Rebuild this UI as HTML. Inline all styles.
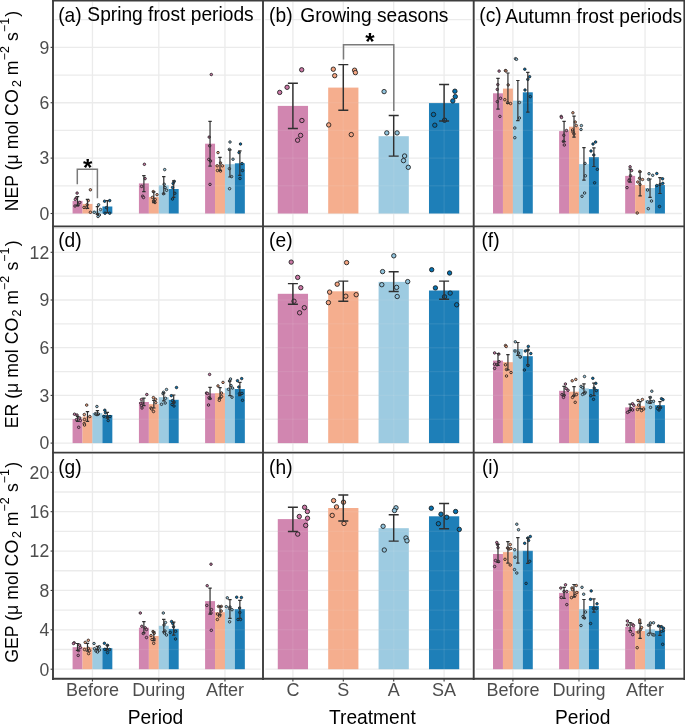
<!DOCTYPE html>
<html><head><meta charset="utf-8"><style>
html,body{margin:0;padding:0;background:#fff;}
svg{display:block;will-change:transform;}
text{font-family:"Liberation Sans", sans-serif;}
.ax{font-size:17.6px;fill:#4D4D4D;}
.at{font-size:19.2px;fill:#000;}
.st{font-size:19.2px;fill:#000;}
.ast{font-size:24px;font-weight:bold;fill:#000;}
</style></head><body>
<svg width="685" height="724" viewBox="0 0 685 724">
<rect width="685" height="724" fill="#fff"/>
<line x1="54.30" y1="185.81" x2="260.70" y2="185.81" stroke="#EBEBEB" stroke-width="1.3"/>
<line x1="54.30" y1="130.43" x2="260.70" y2="130.43" stroke="#EBEBEB" stroke-width="1.3"/>
<line x1="54.30" y1="75.05" x2="260.70" y2="75.05" stroke="#EBEBEB" stroke-width="1.3"/>
<line x1="54.30" y1="19.67" x2="260.70" y2="19.67" stroke="#EBEBEB" stroke-width="1.3"/>
<line x1="54.30" y1="213.50" x2="260.70" y2="213.50" stroke="#EBEBEB" stroke-width="1.3"/>
<line x1="54.30" y1="158.12" x2="260.70" y2="158.12" stroke="#EBEBEB" stroke-width="1.3"/>
<line x1="54.30" y1="102.74" x2="260.70" y2="102.74" stroke="#EBEBEB" stroke-width="1.3"/>
<line x1="54.30" y1="47.36" x2="260.70" y2="47.36" stroke="#EBEBEB" stroke-width="1.3"/>
<line x1="92.45" y1="2.00" x2="92.45" y2="224.80" stroke="#EBEBEB" stroke-width="1.3"/>
<line x1="158.80" y1="2.00" x2="158.80" y2="224.80" stroke="#EBEBEB" stroke-width="1.3"/>
<line x1="224.96" y1="2.00" x2="224.96" y2="224.80" stroke="#EBEBEB" stroke-width="1.3"/>
<line x1="265.20" y1="185.81" x2="471.50" y2="185.81" stroke="#EBEBEB" stroke-width="1.3"/>
<line x1="265.20" y1="130.43" x2="471.50" y2="130.43" stroke="#EBEBEB" stroke-width="1.3"/>
<line x1="265.20" y1="75.05" x2="471.50" y2="75.05" stroke="#EBEBEB" stroke-width="1.3"/>
<line x1="265.20" y1="19.67" x2="471.50" y2="19.67" stroke="#EBEBEB" stroke-width="1.3"/>
<line x1="265.20" y1="213.50" x2="471.50" y2="213.50" stroke="#EBEBEB" stroke-width="1.3"/>
<line x1="265.20" y1="158.12" x2="471.50" y2="158.12" stroke="#EBEBEB" stroke-width="1.3"/>
<line x1="265.20" y1="102.74" x2="471.50" y2="102.74" stroke="#EBEBEB" stroke-width="1.3"/>
<line x1="265.20" y1="47.36" x2="471.50" y2="47.36" stroke="#EBEBEB" stroke-width="1.3"/>
<line x1="292.90" y1="2.00" x2="292.90" y2="224.80" stroke="#EBEBEB" stroke-width="1.3"/>
<line x1="343.30" y1="2.00" x2="343.30" y2="224.80" stroke="#EBEBEB" stroke-width="1.3"/>
<line x1="393.70" y1="2.00" x2="393.70" y2="224.80" stroke="#EBEBEB" stroke-width="1.3"/>
<line x1="444.10" y1="2.00" x2="444.10" y2="224.80" stroke="#EBEBEB" stroke-width="1.3"/>
<line x1="476.00" y1="185.81" x2="681.90" y2="185.81" stroke="#EBEBEB" stroke-width="1.3"/>
<line x1="476.00" y1="130.43" x2="681.90" y2="130.43" stroke="#EBEBEB" stroke-width="1.3"/>
<line x1="476.00" y1="75.05" x2="681.90" y2="75.05" stroke="#EBEBEB" stroke-width="1.3"/>
<line x1="476.00" y1="19.67" x2="681.90" y2="19.67" stroke="#EBEBEB" stroke-width="1.3"/>
<line x1="476.00" y1="213.50" x2="681.90" y2="213.50" stroke="#EBEBEB" stroke-width="1.3"/>
<line x1="476.00" y1="158.12" x2="681.90" y2="158.12" stroke="#EBEBEB" stroke-width="1.3"/>
<line x1="476.00" y1="102.74" x2="681.90" y2="102.74" stroke="#EBEBEB" stroke-width="1.3"/>
<line x1="476.00" y1="47.36" x2="681.90" y2="47.36" stroke="#EBEBEB" stroke-width="1.3"/>
<line x1="512.90" y1="2.00" x2="512.90" y2="224.80" stroke="#EBEBEB" stroke-width="1.3"/>
<line x1="578.98" y1="2.00" x2="578.98" y2="224.80" stroke="#EBEBEB" stroke-width="1.3"/>
<line x1="645.05" y1="2.00" x2="645.05" y2="224.80" stroke="#EBEBEB" stroke-width="1.3"/>
<line x1="54.30" y1="419.25" x2="260.70" y2="419.25" stroke="#EBEBEB" stroke-width="1.3"/>
<line x1="54.30" y1="371.55" x2="260.70" y2="371.55" stroke="#EBEBEB" stroke-width="1.3"/>
<line x1="54.30" y1="323.85" x2="260.70" y2="323.85" stroke="#EBEBEB" stroke-width="1.3"/>
<line x1="54.30" y1="276.15" x2="260.70" y2="276.15" stroke="#EBEBEB" stroke-width="1.3"/>
<line x1="54.30" y1="228.45" x2="260.70" y2="228.45" stroke="#EBEBEB" stroke-width="1.3"/>
<line x1="54.30" y1="443.10" x2="260.70" y2="443.10" stroke="#EBEBEB" stroke-width="1.3"/>
<line x1="54.30" y1="395.40" x2="260.70" y2="395.40" stroke="#EBEBEB" stroke-width="1.3"/>
<line x1="54.30" y1="347.70" x2="260.70" y2="347.70" stroke="#EBEBEB" stroke-width="1.3"/>
<line x1="54.30" y1="300.00" x2="260.70" y2="300.00" stroke="#EBEBEB" stroke-width="1.3"/>
<line x1="54.30" y1="252.30" x2="260.70" y2="252.30" stroke="#EBEBEB" stroke-width="1.3"/>
<line x1="92.45" y1="227.80" x2="92.45" y2="451.10" stroke="#EBEBEB" stroke-width="1.3"/>
<line x1="158.80" y1="227.80" x2="158.80" y2="451.10" stroke="#EBEBEB" stroke-width="1.3"/>
<line x1="224.96" y1="227.80" x2="224.96" y2="451.10" stroke="#EBEBEB" stroke-width="1.3"/>
<line x1="265.20" y1="419.25" x2="471.50" y2="419.25" stroke="#EBEBEB" stroke-width="1.3"/>
<line x1="265.20" y1="371.55" x2="471.50" y2="371.55" stroke="#EBEBEB" stroke-width="1.3"/>
<line x1="265.20" y1="323.85" x2="471.50" y2="323.85" stroke="#EBEBEB" stroke-width="1.3"/>
<line x1="265.20" y1="276.15" x2="471.50" y2="276.15" stroke="#EBEBEB" stroke-width="1.3"/>
<line x1="265.20" y1="228.45" x2="471.50" y2="228.45" stroke="#EBEBEB" stroke-width="1.3"/>
<line x1="265.20" y1="443.10" x2="471.50" y2="443.10" stroke="#EBEBEB" stroke-width="1.3"/>
<line x1="265.20" y1="395.40" x2="471.50" y2="395.40" stroke="#EBEBEB" stroke-width="1.3"/>
<line x1="265.20" y1="347.70" x2="471.50" y2="347.70" stroke="#EBEBEB" stroke-width="1.3"/>
<line x1="265.20" y1="300.00" x2="471.50" y2="300.00" stroke="#EBEBEB" stroke-width="1.3"/>
<line x1="265.20" y1="252.30" x2="471.50" y2="252.30" stroke="#EBEBEB" stroke-width="1.3"/>
<line x1="292.90" y1="227.80" x2="292.90" y2="451.10" stroke="#EBEBEB" stroke-width="1.3"/>
<line x1="343.30" y1="227.80" x2="343.30" y2="451.10" stroke="#EBEBEB" stroke-width="1.3"/>
<line x1="393.70" y1="227.80" x2="393.70" y2="451.10" stroke="#EBEBEB" stroke-width="1.3"/>
<line x1="444.10" y1="227.80" x2="444.10" y2="451.10" stroke="#EBEBEB" stroke-width="1.3"/>
<line x1="476.00" y1="419.25" x2="681.90" y2="419.25" stroke="#EBEBEB" stroke-width="1.3"/>
<line x1="476.00" y1="371.55" x2="681.90" y2="371.55" stroke="#EBEBEB" stroke-width="1.3"/>
<line x1="476.00" y1="323.85" x2="681.90" y2="323.85" stroke="#EBEBEB" stroke-width="1.3"/>
<line x1="476.00" y1="276.15" x2="681.90" y2="276.15" stroke="#EBEBEB" stroke-width="1.3"/>
<line x1="476.00" y1="228.45" x2="681.90" y2="228.45" stroke="#EBEBEB" stroke-width="1.3"/>
<line x1="476.00" y1="443.10" x2="681.90" y2="443.10" stroke="#EBEBEB" stroke-width="1.3"/>
<line x1="476.00" y1="395.40" x2="681.90" y2="395.40" stroke="#EBEBEB" stroke-width="1.3"/>
<line x1="476.00" y1="347.70" x2="681.90" y2="347.70" stroke="#EBEBEB" stroke-width="1.3"/>
<line x1="476.00" y1="300.00" x2="681.90" y2="300.00" stroke="#EBEBEB" stroke-width="1.3"/>
<line x1="476.00" y1="252.30" x2="681.90" y2="252.30" stroke="#EBEBEB" stroke-width="1.3"/>
<line x1="512.90" y1="227.80" x2="512.90" y2="451.10" stroke="#EBEBEB" stroke-width="1.3"/>
<line x1="578.98" y1="227.80" x2="578.98" y2="451.10" stroke="#EBEBEB" stroke-width="1.3"/>
<line x1="645.05" y1="227.80" x2="645.05" y2="451.10" stroke="#EBEBEB" stroke-width="1.3"/>
<line x1="54.30" y1="649.51" x2="260.70" y2="649.51" stroke="#EBEBEB" stroke-width="1.3"/>
<line x1="54.30" y1="610.13" x2="260.70" y2="610.13" stroke="#EBEBEB" stroke-width="1.3"/>
<line x1="54.30" y1="570.75" x2="260.70" y2="570.75" stroke="#EBEBEB" stroke-width="1.3"/>
<line x1="54.30" y1="531.37" x2="260.70" y2="531.37" stroke="#EBEBEB" stroke-width="1.3"/>
<line x1="54.30" y1="491.99" x2="260.70" y2="491.99" stroke="#EBEBEB" stroke-width="1.3"/>
<line x1="54.30" y1="669.20" x2="260.70" y2="669.20" stroke="#EBEBEB" stroke-width="1.3"/>
<line x1="54.30" y1="629.82" x2="260.70" y2="629.82" stroke="#EBEBEB" stroke-width="1.3"/>
<line x1="54.30" y1="590.44" x2="260.70" y2="590.44" stroke="#EBEBEB" stroke-width="1.3"/>
<line x1="54.30" y1="551.06" x2="260.70" y2="551.06" stroke="#EBEBEB" stroke-width="1.3"/>
<line x1="54.30" y1="511.68" x2="260.70" y2="511.68" stroke="#EBEBEB" stroke-width="1.3"/>
<line x1="54.30" y1="472.30" x2="260.70" y2="472.30" stroke="#EBEBEB" stroke-width="1.3"/>
<line x1="92.45" y1="454.10" x2="92.45" y2="677.40" stroke="#EBEBEB" stroke-width="1.3"/>
<line x1="158.80" y1="454.10" x2="158.80" y2="677.40" stroke="#EBEBEB" stroke-width="1.3"/>
<line x1="224.96" y1="454.10" x2="224.96" y2="677.40" stroke="#EBEBEB" stroke-width="1.3"/>
<line x1="265.20" y1="649.51" x2="471.50" y2="649.51" stroke="#EBEBEB" stroke-width="1.3"/>
<line x1="265.20" y1="610.13" x2="471.50" y2="610.13" stroke="#EBEBEB" stroke-width="1.3"/>
<line x1="265.20" y1="570.75" x2="471.50" y2="570.75" stroke="#EBEBEB" stroke-width="1.3"/>
<line x1="265.20" y1="531.37" x2="471.50" y2="531.37" stroke="#EBEBEB" stroke-width="1.3"/>
<line x1="265.20" y1="491.99" x2="471.50" y2="491.99" stroke="#EBEBEB" stroke-width="1.3"/>
<line x1="265.20" y1="669.20" x2="471.50" y2="669.20" stroke="#EBEBEB" stroke-width="1.3"/>
<line x1="265.20" y1="629.82" x2="471.50" y2="629.82" stroke="#EBEBEB" stroke-width="1.3"/>
<line x1="265.20" y1="590.44" x2="471.50" y2="590.44" stroke="#EBEBEB" stroke-width="1.3"/>
<line x1="265.20" y1="551.06" x2="471.50" y2="551.06" stroke="#EBEBEB" stroke-width="1.3"/>
<line x1="265.20" y1="511.68" x2="471.50" y2="511.68" stroke="#EBEBEB" stroke-width="1.3"/>
<line x1="265.20" y1="472.30" x2="471.50" y2="472.30" stroke="#EBEBEB" stroke-width="1.3"/>
<line x1="292.90" y1="454.10" x2="292.90" y2="677.40" stroke="#EBEBEB" stroke-width="1.3"/>
<line x1="343.30" y1="454.10" x2="343.30" y2="677.40" stroke="#EBEBEB" stroke-width="1.3"/>
<line x1="393.70" y1="454.10" x2="393.70" y2="677.40" stroke="#EBEBEB" stroke-width="1.3"/>
<line x1="444.10" y1="454.10" x2="444.10" y2="677.40" stroke="#EBEBEB" stroke-width="1.3"/>
<line x1="476.00" y1="649.51" x2="681.90" y2="649.51" stroke="#EBEBEB" stroke-width="1.3"/>
<line x1="476.00" y1="610.13" x2="681.90" y2="610.13" stroke="#EBEBEB" stroke-width="1.3"/>
<line x1="476.00" y1="570.75" x2="681.90" y2="570.75" stroke="#EBEBEB" stroke-width="1.3"/>
<line x1="476.00" y1="531.37" x2="681.90" y2="531.37" stroke="#EBEBEB" stroke-width="1.3"/>
<line x1="476.00" y1="491.99" x2="681.90" y2="491.99" stroke="#EBEBEB" stroke-width="1.3"/>
<line x1="476.00" y1="669.20" x2="681.90" y2="669.20" stroke="#EBEBEB" stroke-width="1.3"/>
<line x1="476.00" y1="629.82" x2="681.90" y2="629.82" stroke="#EBEBEB" stroke-width="1.3"/>
<line x1="476.00" y1="590.44" x2="681.90" y2="590.44" stroke="#EBEBEB" stroke-width="1.3"/>
<line x1="476.00" y1="551.06" x2="681.90" y2="551.06" stroke="#EBEBEB" stroke-width="1.3"/>
<line x1="476.00" y1="511.68" x2="681.90" y2="511.68" stroke="#EBEBEB" stroke-width="1.3"/>
<line x1="476.00" y1="472.30" x2="681.90" y2="472.30" stroke="#EBEBEB" stroke-width="1.3"/>
<line x1="512.90" y1="454.10" x2="512.90" y2="677.40" stroke="#EBEBEB" stroke-width="1.3"/>
<line x1="578.98" y1="454.10" x2="578.98" y2="677.40" stroke="#EBEBEB" stroke-width="1.3"/>
<line x1="645.05" y1="454.10" x2="645.05" y2="677.40" stroke="#EBEBEB" stroke-width="1.3"/>
<rect x="72.58" y="200.90" width="9.94" height="12.60" fill="#CC79A7" fill-opacity="0.9"/>
<rect x="82.51" y="203.90" width="9.94" height="9.60" fill="#F4A582" fill-opacity="0.9"/>
<rect x="92.45" y="210.70" width="9.94" height="2.80" fill="#92C5DE" fill-opacity="0.9"/>
<rect x="102.39" y="206.50" width="9.94" height="7.00" fill="#0571B0" fill-opacity="0.9"/>
<rect x="138.93" y="183.40" width="9.94" height="30.10" fill="#CC79A7" fill-opacity="0.9"/>
<rect x="148.86" y="197.10" width="9.94" height="16.40" fill="#F4A582" fill-opacity="0.9"/>
<rect x="158.80" y="185.30" width="9.94" height="28.20" fill="#92C5DE" fill-opacity="0.9"/>
<rect x="168.74" y="189.00" width="9.94" height="24.50" fill="#0571B0" fill-opacity="0.9"/>
<rect x="205.09" y="143.70" width="9.94" height="69.80" fill="#CC79A7" fill-opacity="0.9"/>
<rect x="215.02" y="164.80" width="9.94" height="48.70" fill="#F4A582" fill-opacity="0.9"/>
<rect x="224.96" y="164.20" width="9.94" height="49.30" fill="#92C5DE" fill-opacity="0.9"/>
<rect x="234.90" y="163.30" width="9.94" height="50.20" fill="#0571B0" fill-opacity="0.9"/>
<rect x="277.78" y="105.90" width="30.24" height="107.60" fill="#CC79A7" fill-opacity="0.9"/>
<rect x="328.18" y="87.60" width="30.24" height="125.90" fill="#F4A582" fill-opacity="0.9"/>
<rect x="378.58" y="136.20" width="30.24" height="77.30" fill="#92C5DE" fill-opacity="0.9"/>
<rect x="428.98" y="103.10" width="30.24" height="110.40" fill="#0571B0" fill-opacity="0.9"/>
<rect x="493.02" y="93.30" width="9.94" height="120.20" fill="#CC79A7" fill-opacity="0.9"/>
<rect x="502.96" y="88.60" width="9.94" height="124.90" fill="#F4A582" fill-opacity="0.9"/>
<rect x="512.90" y="100.70" width="9.94" height="112.80" fill="#92C5DE" fill-opacity="0.9"/>
<rect x="522.84" y="92.30" width="9.94" height="121.20" fill="#0571B0" fill-opacity="0.9"/>
<rect x="559.11" y="131.10" width="9.94" height="82.40" fill="#CC79A7" fill-opacity="0.9"/>
<rect x="569.04" y="126.70" width="9.94" height="86.80" fill="#F4A582" fill-opacity="0.9"/>
<rect x="578.98" y="164.10" width="9.94" height="49.40" fill="#92C5DE" fill-opacity="0.9"/>
<rect x="588.92" y="157.20" width="9.94" height="56.30" fill="#0571B0" fill-opacity="0.9"/>
<rect x="625.17" y="175.90" width="9.94" height="37.60" fill="#CC79A7" fill-opacity="0.9"/>
<rect x="635.11" y="185.00" width="9.94" height="28.50" fill="#F4A582" fill-opacity="0.9"/>
<rect x="645.05" y="188.00" width="9.94" height="25.50" fill="#92C5DE" fill-opacity="0.9"/>
<rect x="654.99" y="185.00" width="9.94" height="28.50" fill="#0571B0" fill-opacity="0.9"/>
<rect x="72.58" y="419.00" width="9.94" height="24.10" fill="#CC79A7" fill-opacity="0.9"/>
<rect x="82.51" y="416.50" width="9.94" height="26.60" fill="#F4A582" fill-opacity="0.9"/>
<rect x="92.45" y="413.10" width="9.94" height="30.00" fill="#92C5DE" fill-opacity="0.9"/>
<rect x="102.39" y="415.00" width="9.94" height="28.10" fill="#0571B0" fill-opacity="0.9"/>
<rect x="138.93" y="402.00" width="9.94" height="41.10" fill="#CC79A7" fill-opacity="0.9"/>
<rect x="148.86" y="404.20" width="9.94" height="38.90" fill="#F4A582" fill-opacity="0.9"/>
<rect x="158.80" y="397.20" width="9.94" height="45.90" fill="#92C5DE" fill-opacity="0.9"/>
<rect x="168.74" y="399.80" width="9.94" height="43.30" fill="#0571B0" fill-opacity="0.9"/>
<rect x="205.09" y="393.40" width="9.94" height="49.70" fill="#CC79A7" fill-opacity="0.9"/>
<rect x="215.02" y="393.20" width="9.94" height="49.90" fill="#F4A582" fill-opacity="0.9"/>
<rect x="224.96" y="388.20" width="9.94" height="54.90" fill="#92C5DE" fill-opacity="0.9"/>
<rect x="234.90" y="389.00" width="9.94" height="54.10" fill="#0571B0" fill-opacity="0.9"/>
<rect x="277.78" y="293.80" width="30.24" height="149.30" fill="#CC79A7" fill-opacity="0.9"/>
<rect x="328.18" y="291.30" width="30.24" height="151.80" fill="#F4A582" fill-opacity="0.9"/>
<rect x="378.58" y="281.90" width="30.24" height="161.20" fill="#92C5DE" fill-opacity="0.9"/>
<rect x="428.98" y="290.50" width="30.24" height="152.60" fill="#0571B0" fill-opacity="0.9"/>
<rect x="493.02" y="360.60" width="9.94" height="82.50" fill="#CC79A7" fill-opacity="0.9"/>
<rect x="502.96" y="362.20" width="9.94" height="80.90" fill="#F4A582" fill-opacity="0.9"/>
<rect x="512.90" y="349.00" width="9.94" height="94.10" fill="#92C5DE" fill-opacity="0.9"/>
<rect x="522.84" y="356.20" width="9.94" height="86.90" fill="#0571B0" fill-opacity="0.9"/>
<rect x="559.11" y="390.80" width="9.94" height="52.30" fill="#CC79A7" fill-opacity="0.9"/>
<rect x="569.04" y="391.70" width="9.94" height="51.40" fill="#F4A582" fill-opacity="0.9"/>
<rect x="578.98" y="388.40" width="9.94" height="54.70" fill="#92C5DE" fill-opacity="0.9"/>
<rect x="588.92" y="389.10" width="9.94" height="54.00" fill="#0571B0" fill-opacity="0.9"/>
<rect x="625.17" y="407.40" width="9.94" height="35.70" fill="#CC79A7" fill-opacity="0.9"/>
<rect x="635.11" y="405.90" width="9.94" height="37.20" fill="#F4A582" fill-opacity="0.9"/>
<rect x="645.05" y="400.40" width="9.94" height="42.70" fill="#92C5DE" fill-opacity="0.9"/>
<rect x="654.99" y="405.20" width="9.94" height="37.90" fill="#0571B0" fill-opacity="0.9"/>
<rect x="72.58" y="647.20" width="9.94" height="22.00" fill="#CC79A7" fill-opacity="0.9"/>
<rect x="82.51" y="647.40" width="9.94" height="21.80" fill="#F4A582" fill-opacity="0.9"/>
<rect x="92.45" y="647.70" width="9.94" height="21.50" fill="#92C5DE" fill-opacity="0.9"/>
<rect x="102.39" y="648.20" width="9.94" height="21.00" fill="#0571B0" fill-opacity="0.9"/>
<rect x="138.93" y="627.70" width="9.94" height="41.50" fill="#CC79A7" fill-opacity="0.9"/>
<rect x="148.86" y="636.00" width="9.94" height="33.20" fill="#F4A582" fill-opacity="0.9"/>
<rect x="158.80" y="625.80" width="9.94" height="43.40" fill="#92C5DE" fill-opacity="0.9"/>
<rect x="168.74" y="628.90" width="9.94" height="40.30" fill="#0571B0" fill-opacity="0.9"/>
<rect x="205.09" y="601.10" width="9.94" height="68.10" fill="#CC79A7" fill-opacity="0.9"/>
<rect x="215.02" y="612.20" width="9.94" height="57.00" fill="#F4A582" fill-opacity="0.9"/>
<rect x="224.96" y="609.00" width="9.94" height="60.20" fill="#92C5DE" fill-opacity="0.9"/>
<rect x="234.90" y="609.20" width="9.94" height="60.00" fill="#0571B0" fill-opacity="0.9"/>
<rect x="277.78" y="519.10" width="30.24" height="150.10" fill="#CC79A7" fill-opacity="0.9"/>
<rect x="328.18" y="508.00" width="30.24" height="161.20" fill="#F4A582" fill-opacity="0.9"/>
<rect x="378.58" y="528.20" width="30.24" height="141.00" fill="#92C5DE" fill-opacity="0.9"/>
<rect x="428.98" y="516.30" width="30.24" height="152.90" fill="#0571B0" fill-opacity="0.9"/>
<rect x="493.02" y="554.00" width="9.94" height="115.20" fill="#CC79A7" fill-opacity="0.9"/>
<rect x="502.96" y="552.10" width="9.94" height="117.10" fill="#F4A582" fill-opacity="0.9"/>
<rect x="512.90" y="550.80" width="9.94" height="118.40" fill="#92C5DE" fill-opacity="0.9"/>
<rect x="522.84" y="550.80" width="9.94" height="118.40" fill="#0571B0" fill-opacity="0.9"/>
<rect x="559.11" y="592.90" width="9.94" height="76.30" fill="#CC79A7" fill-opacity="0.9"/>
<rect x="569.04" y="591.10" width="9.94" height="78.10" fill="#F4A582" fill-opacity="0.9"/>
<rect x="578.98" y="609.20" width="9.94" height="60.00" fill="#92C5DE" fill-opacity="0.9"/>
<rect x="588.92" y="606.00" width="9.94" height="63.20" fill="#0571B0" fill-opacity="0.9"/>
<rect x="625.17" y="626.90" width="9.94" height="42.30" fill="#CC79A7" fill-opacity="0.9"/>
<rect x="635.11" y="631.00" width="9.94" height="38.20" fill="#F4A582" fill-opacity="0.9"/>
<rect x="645.05" y="629.30" width="9.94" height="39.90" fill="#92C5DE" fill-opacity="0.9"/>
<rect x="654.99" y="630.80" width="9.94" height="38.40" fill="#0571B0" fill-opacity="0.9"/>
<line x1="138.93" y1="185.81" x2="148.86" y2="185.81" stroke="#fff" stroke-opacity="0.09" stroke-width="1.3"/>
<line x1="158.80" y1="185.81" x2="168.74" y2="185.81" stroke="#fff" stroke-opacity="0.09" stroke-width="1.3"/>
<line x1="205.09" y1="185.81" x2="215.02" y2="185.81" stroke="#fff" stroke-opacity="0.09" stroke-width="1.3"/>
<line x1="205.09" y1="158.12" x2="215.02" y2="158.12" stroke="#fff" stroke-opacity="0.09" stroke-width="1.3"/>
<line x1="215.02" y1="185.81" x2="224.96" y2="185.81" stroke="#fff" stroke-opacity="0.09" stroke-width="1.3"/>
<line x1="224.96" y1="185.81" x2="234.90" y2="185.81" stroke="#fff" stroke-opacity="0.09" stroke-width="1.3"/>
<line x1="234.90" y1="185.81" x2="244.84" y2="185.81" stroke="#fff" stroke-opacity="0.09" stroke-width="1.3"/>
<line x1="277.78" y1="185.81" x2="308.02" y2="185.81" stroke="#fff" stroke-opacity="0.09" stroke-width="1.3"/>
<line x1="277.78" y1="130.43" x2="308.02" y2="130.43" stroke="#fff" stroke-opacity="0.09" stroke-width="1.3"/>
<line x1="277.78" y1="158.12" x2="308.02" y2="158.12" stroke="#fff" stroke-opacity="0.09" stroke-width="1.3"/>
<line x1="292.90" y1="105.90" x2="292.90" y2="213.50" stroke="#fff" stroke-opacity="0.09" stroke-width="1.3"/>
<line x1="328.18" y1="185.81" x2="358.42" y2="185.81" stroke="#fff" stroke-opacity="0.09" stroke-width="1.3"/>
<line x1="328.18" y1="130.43" x2="358.42" y2="130.43" stroke="#fff" stroke-opacity="0.09" stroke-width="1.3"/>
<line x1="328.18" y1="158.12" x2="358.42" y2="158.12" stroke="#fff" stroke-opacity="0.09" stroke-width="1.3"/>
<line x1="328.18" y1="102.74" x2="358.42" y2="102.74" stroke="#fff" stroke-opacity="0.09" stroke-width="1.3"/>
<line x1="343.30" y1="87.60" x2="343.30" y2="213.50" stroke="#fff" stroke-opacity="0.09" stroke-width="1.3"/>
<line x1="378.58" y1="185.81" x2="408.82" y2="185.81" stroke="#fff" stroke-opacity="0.09" stroke-width="1.3"/>
<line x1="378.58" y1="158.12" x2="408.82" y2="158.12" stroke="#fff" stroke-opacity="0.09" stroke-width="1.3"/>
<line x1="393.70" y1="136.20" x2="393.70" y2="213.50" stroke="#fff" stroke-opacity="0.09" stroke-width="1.3"/>
<line x1="428.98" y1="185.81" x2="459.22" y2="185.81" stroke="#fff" stroke-opacity="0.09" stroke-width="1.3"/>
<line x1="428.98" y1="130.43" x2="459.22" y2="130.43" stroke="#fff" stroke-opacity="0.09" stroke-width="1.3"/>
<line x1="428.98" y1="158.12" x2="459.22" y2="158.12" stroke="#fff" stroke-opacity="0.09" stroke-width="1.3"/>
<line x1="444.10" y1="103.10" x2="444.10" y2="213.50" stroke="#fff" stroke-opacity="0.09" stroke-width="1.3"/>
<line x1="493.02" y1="185.81" x2="502.96" y2="185.81" stroke="#fff" stroke-opacity="0.09" stroke-width="1.3"/>
<line x1="493.02" y1="130.43" x2="502.96" y2="130.43" stroke="#fff" stroke-opacity="0.09" stroke-width="1.3"/>
<line x1="493.02" y1="158.12" x2="502.96" y2="158.12" stroke="#fff" stroke-opacity="0.09" stroke-width="1.3"/>
<line x1="493.02" y1="102.74" x2="502.96" y2="102.74" stroke="#fff" stroke-opacity="0.09" stroke-width="1.3"/>
<line x1="502.96" y1="185.81" x2="512.90" y2="185.81" stroke="#fff" stroke-opacity="0.09" stroke-width="1.3"/>
<line x1="502.96" y1="130.43" x2="512.90" y2="130.43" stroke="#fff" stroke-opacity="0.09" stroke-width="1.3"/>
<line x1="502.96" y1="158.12" x2="512.90" y2="158.12" stroke="#fff" stroke-opacity="0.09" stroke-width="1.3"/>
<line x1="502.96" y1="102.74" x2="512.90" y2="102.74" stroke="#fff" stroke-opacity="0.09" stroke-width="1.3"/>
<line x1="512.90" y1="185.81" x2="522.84" y2="185.81" stroke="#fff" stroke-opacity="0.09" stroke-width="1.3"/>
<line x1="512.90" y1="130.43" x2="522.84" y2="130.43" stroke="#fff" stroke-opacity="0.09" stroke-width="1.3"/>
<line x1="512.90" y1="158.12" x2="522.84" y2="158.12" stroke="#fff" stroke-opacity="0.09" stroke-width="1.3"/>
<line x1="512.90" y1="102.74" x2="522.84" y2="102.74" stroke="#fff" stroke-opacity="0.09" stroke-width="1.3"/>
<line x1="522.84" y1="185.81" x2="532.77" y2="185.81" stroke="#fff" stroke-opacity="0.09" stroke-width="1.3"/>
<line x1="522.84" y1="130.43" x2="532.77" y2="130.43" stroke="#fff" stroke-opacity="0.09" stroke-width="1.3"/>
<line x1="522.84" y1="158.12" x2="532.77" y2="158.12" stroke="#fff" stroke-opacity="0.09" stroke-width="1.3"/>
<line x1="522.84" y1="102.74" x2="532.77" y2="102.74" stroke="#fff" stroke-opacity="0.09" stroke-width="1.3"/>
<line x1="559.11" y1="185.81" x2="569.04" y2="185.81" stroke="#fff" stroke-opacity="0.09" stroke-width="1.3"/>
<line x1="559.11" y1="158.12" x2="569.04" y2="158.12" stroke="#fff" stroke-opacity="0.09" stroke-width="1.3"/>
<line x1="569.04" y1="185.81" x2="578.98" y2="185.81" stroke="#fff" stroke-opacity="0.09" stroke-width="1.3"/>
<line x1="569.04" y1="130.43" x2="578.98" y2="130.43" stroke="#fff" stroke-opacity="0.09" stroke-width="1.3"/>
<line x1="569.04" y1="158.12" x2="578.98" y2="158.12" stroke="#fff" stroke-opacity="0.09" stroke-width="1.3"/>
<line x1="578.98" y1="185.81" x2="588.92" y2="185.81" stroke="#fff" stroke-opacity="0.09" stroke-width="1.3"/>
<line x1="588.92" y1="185.81" x2="598.86" y2="185.81" stroke="#fff" stroke-opacity="0.09" stroke-width="1.3"/>
<line x1="588.92" y1="158.12" x2="598.86" y2="158.12" stroke="#fff" stroke-opacity="0.09" stroke-width="1.3"/>
<line x1="625.17" y1="185.81" x2="635.11" y2="185.81" stroke="#fff" stroke-opacity="0.09" stroke-width="1.3"/>
<line x1="635.11" y1="185.81" x2="645.05" y2="185.81" stroke="#fff" stroke-opacity="0.09" stroke-width="1.3"/>
<line x1="654.99" y1="185.81" x2="664.92" y2="185.81" stroke="#fff" stroke-opacity="0.09" stroke-width="1.3"/>
<line x1="72.58" y1="419.25" x2="82.51" y2="419.25" stroke="#fff" stroke-opacity="0.09" stroke-width="1.3"/>
<line x1="82.51" y1="419.25" x2="92.45" y2="419.25" stroke="#fff" stroke-opacity="0.09" stroke-width="1.3"/>
<line x1="92.45" y1="419.25" x2="102.39" y2="419.25" stroke="#fff" stroke-opacity="0.09" stroke-width="1.3"/>
<line x1="102.39" y1="419.25" x2="112.33" y2="419.25" stroke="#fff" stroke-opacity="0.09" stroke-width="1.3"/>
<line x1="138.93" y1="419.25" x2="148.86" y2="419.25" stroke="#fff" stroke-opacity="0.09" stroke-width="1.3"/>
<line x1="148.86" y1="419.25" x2="158.80" y2="419.25" stroke="#fff" stroke-opacity="0.09" stroke-width="1.3"/>
<line x1="158.80" y1="419.25" x2="168.74" y2="419.25" stroke="#fff" stroke-opacity="0.09" stroke-width="1.3"/>
<line x1="168.74" y1="419.25" x2="178.68" y2="419.25" stroke="#fff" stroke-opacity="0.09" stroke-width="1.3"/>
<line x1="205.09" y1="419.25" x2="215.02" y2="419.25" stroke="#fff" stroke-opacity="0.09" stroke-width="1.3"/>
<line x1="205.09" y1="395.40" x2="215.02" y2="395.40" stroke="#fff" stroke-opacity="0.09" stroke-width="1.3"/>
<line x1="215.02" y1="419.25" x2="224.96" y2="419.25" stroke="#fff" stroke-opacity="0.09" stroke-width="1.3"/>
<line x1="215.02" y1="395.40" x2="224.96" y2="395.40" stroke="#fff" stroke-opacity="0.09" stroke-width="1.3"/>
<line x1="224.96" y1="419.25" x2="234.90" y2="419.25" stroke="#fff" stroke-opacity="0.09" stroke-width="1.3"/>
<line x1="224.96" y1="395.40" x2="234.90" y2="395.40" stroke="#fff" stroke-opacity="0.09" stroke-width="1.3"/>
<line x1="234.90" y1="419.25" x2="244.84" y2="419.25" stroke="#fff" stroke-opacity="0.09" stroke-width="1.3"/>
<line x1="234.90" y1="395.40" x2="244.84" y2="395.40" stroke="#fff" stroke-opacity="0.09" stroke-width="1.3"/>
<line x1="277.78" y1="419.25" x2="308.02" y2="419.25" stroke="#fff" stroke-opacity="0.09" stroke-width="1.3"/>
<line x1="277.78" y1="371.55" x2="308.02" y2="371.55" stroke="#fff" stroke-opacity="0.09" stroke-width="1.3"/>
<line x1="277.78" y1="323.85" x2="308.02" y2="323.85" stroke="#fff" stroke-opacity="0.09" stroke-width="1.3"/>
<line x1="277.78" y1="395.40" x2="308.02" y2="395.40" stroke="#fff" stroke-opacity="0.09" stroke-width="1.3"/>
<line x1="277.78" y1="347.70" x2="308.02" y2="347.70" stroke="#fff" stroke-opacity="0.09" stroke-width="1.3"/>
<line x1="277.78" y1="300.00" x2="308.02" y2="300.00" stroke="#fff" stroke-opacity="0.09" stroke-width="1.3"/>
<line x1="292.90" y1="293.80" x2="292.90" y2="443.10" stroke="#fff" stroke-opacity="0.09" stroke-width="1.3"/>
<line x1="328.18" y1="419.25" x2="358.42" y2="419.25" stroke="#fff" stroke-opacity="0.09" stroke-width="1.3"/>
<line x1="328.18" y1="371.55" x2="358.42" y2="371.55" stroke="#fff" stroke-opacity="0.09" stroke-width="1.3"/>
<line x1="328.18" y1="323.85" x2="358.42" y2="323.85" stroke="#fff" stroke-opacity="0.09" stroke-width="1.3"/>
<line x1="328.18" y1="395.40" x2="358.42" y2="395.40" stroke="#fff" stroke-opacity="0.09" stroke-width="1.3"/>
<line x1="328.18" y1="347.70" x2="358.42" y2="347.70" stroke="#fff" stroke-opacity="0.09" stroke-width="1.3"/>
<line x1="328.18" y1="300.00" x2="358.42" y2="300.00" stroke="#fff" stroke-opacity="0.09" stroke-width="1.3"/>
<line x1="343.30" y1="291.30" x2="343.30" y2="443.10" stroke="#fff" stroke-opacity="0.09" stroke-width="1.3"/>
<line x1="378.58" y1="419.25" x2="408.82" y2="419.25" stroke="#fff" stroke-opacity="0.09" stroke-width="1.3"/>
<line x1="378.58" y1="371.55" x2="408.82" y2="371.55" stroke="#fff" stroke-opacity="0.09" stroke-width="1.3"/>
<line x1="378.58" y1="323.85" x2="408.82" y2="323.85" stroke="#fff" stroke-opacity="0.09" stroke-width="1.3"/>
<line x1="378.58" y1="395.40" x2="408.82" y2="395.40" stroke="#fff" stroke-opacity="0.09" stroke-width="1.3"/>
<line x1="378.58" y1="347.70" x2="408.82" y2="347.70" stroke="#fff" stroke-opacity="0.09" stroke-width="1.3"/>
<line x1="378.58" y1="300.00" x2="408.82" y2="300.00" stroke="#fff" stroke-opacity="0.09" stroke-width="1.3"/>
<line x1="393.70" y1="281.90" x2="393.70" y2="443.10" stroke="#fff" stroke-opacity="0.09" stroke-width="1.3"/>
<line x1="428.98" y1="419.25" x2="459.22" y2="419.25" stroke="#fff" stroke-opacity="0.09" stroke-width="1.3"/>
<line x1="428.98" y1="371.55" x2="459.22" y2="371.55" stroke="#fff" stroke-opacity="0.09" stroke-width="1.3"/>
<line x1="428.98" y1="323.85" x2="459.22" y2="323.85" stroke="#fff" stroke-opacity="0.09" stroke-width="1.3"/>
<line x1="428.98" y1="395.40" x2="459.22" y2="395.40" stroke="#fff" stroke-opacity="0.09" stroke-width="1.3"/>
<line x1="428.98" y1="347.70" x2="459.22" y2="347.70" stroke="#fff" stroke-opacity="0.09" stroke-width="1.3"/>
<line x1="428.98" y1="300.00" x2="459.22" y2="300.00" stroke="#fff" stroke-opacity="0.09" stroke-width="1.3"/>
<line x1="444.10" y1="290.50" x2="444.10" y2="443.10" stroke="#fff" stroke-opacity="0.09" stroke-width="1.3"/>
<line x1="493.02" y1="419.25" x2="502.96" y2="419.25" stroke="#fff" stroke-opacity="0.09" stroke-width="1.3"/>
<line x1="493.02" y1="371.55" x2="502.96" y2="371.55" stroke="#fff" stroke-opacity="0.09" stroke-width="1.3"/>
<line x1="493.02" y1="395.40" x2="502.96" y2="395.40" stroke="#fff" stroke-opacity="0.09" stroke-width="1.3"/>
<line x1="502.96" y1="419.25" x2="512.90" y2="419.25" stroke="#fff" stroke-opacity="0.09" stroke-width="1.3"/>
<line x1="502.96" y1="371.55" x2="512.90" y2="371.55" stroke="#fff" stroke-opacity="0.09" stroke-width="1.3"/>
<line x1="502.96" y1="395.40" x2="512.90" y2="395.40" stroke="#fff" stroke-opacity="0.09" stroke-width="1.3"/>
<line x1="512.90" y1="419.25" x2="522.84" y2="419.25" stroke="#fff" stroke-opacity="0.09" stroke-width="1.3"/>
<line x1="512.90" y1="371.55" x2="522.84" y2="371.55" stroke="#fff" stroke-opacity="0.09" stroke-width="1.3"/>
<line x1="512.90" y1="395.40" x2="522.84" y2="395.40" stroke="#fff" stroke-opacity="0.09" stroke-width="1.3"/>
<line x1="522.84" y1="419.25" x2="532.77" y2="419.25" stroke="#fff" stroke-opacity="0.09" stroke-width="1.3"/>
<line x1="522.84" y1="371.55" x2="532.77" y2="371.55" stroke="#fff" stroke-opacity="0.09" stroke-width="1.3"/>
<line x1="522.84" y1="395.40" x2="532.77" y2="395.40" stroke="#fff" stroke-opacity="0.09" stroke-width="1.3"/>
<line x1="559.11" y1="419.25" x2="569.04" y2="419.25" stroke="#fff" stroke-opacity="0.09" stroke-width="1.3"/>
<line x1="559.11" y1="395.40" x2="569.04" y2="395.40" stroke="#fff" stroke-opacity="0.09" stroke-width="1.3"/>
<line x1="569.04" y1="419.25" x2="578.98" y2="419.25" stroke="#fff" stroke-opacity="0.09" stroke-width="1.3"/>
<line x1="569.04" y1="395.40" x2="578.98" y2="395.40" stroke="#fff" stroke-opacity="0.09" stroke-width="1.3"/>
<line x1="578.98" y1="419.25" x2="588.92" y2="419.25" stroke="#fff" stroke-opacity="0.09" stroke-width="1.3"/>
<line x1="578.98" y1="395.40" x2="588.92" y2="395.40" stroke="#fff" stroke-opacity="0.09" stroke-width="1.3"/>
<line x1="588.92" y1="419.25" x2="598.86" y2="419.25" stroke="#fff" stroke-opacity="0.09" stroke-width="1.3"/>
<line x1="588.92" y1="395.40" x2="598.86" y2="395.40" stroke="#fff" stroke-opacity="0.09" stroke-width="1.3"/>
<line x1="625.17" y1="419.25" x2="635.11" y2="419.25" stroke="#fff" stroke-opacity="0.09" stroke-width="1.3"/>
<line x1="635.11" y1="419.25" x2="645.05" y2="419.25" stroke="#fff" stroke-opacity="0.09" stroke-width="1.3"/>
<line x1="645.05" y1="419.25" x2="654.99" y2="419.25" stroke="#fff" stroke-opacity="0.09" stroke-width="1.3"/>
<line x1="654.99" y1="419.25" x2="664.92" y2="419.25" stroke="#fff" stroke-opacity="0.09" stroke-width="1.3"/>
<line x1="72.58" y1="649.51" x2="82.51" y2="649.51" stroke="#fff" stroke-opacity="0.09" stroke-width="1.3"/>
<line x1="82.51" y1="649.51" x2="92.45" y2="649.51" stroke="#fff" stroke-opacity="0.09" stroke-width="1.3"/>
<line x1="92.45" y1="649.51" x2="102.39" y2="649.51" stroke="#fff" stroke-opacity="0.09" stroke-width="1.3"/>
<line x1="102.39" y1="649.51" x2="112.33" y2="649.51" stroke="#fff" stroke-opacity="0.09" stroke-width="1.3"/>
<line x1="138.93" y1="649.51" x2="148.86" y2="649.51" stroke="#fff" stroke-opacity="0.09" stroke-width="1.3"/>
<line x1="138.93" y1="629.82" x2="148.86" y2="629.82" stroke="#fff" stroke-opacity="0.09" stroke-width="1.3"/>
<line x1="148.86" y1="649.51" x2="158.80" y2="649.51" stroke="#fff" stroke-opacity="0.09" stroke-width="1.3"/>
<line x1="158.80" y1="649.51" x2="168.74" y2="649.51" stroke="#fff" stroke-opacity="0.09" stroke-width="1.3"/>
<line x1="158.80" y1="629.82" x2="168.74" y2="629.82" stroke="#fff" stroke-opacity="0.09" stroke-width="1.3"/>
<line x1="168.74" y1="649.51" x2="178.68" y2="649.51" stroke="#fff" stroke-opacity="0.09" stroke-width="1.3"/>
<line x1="168.74" y1="629.82" x2="178.68" y2="629.82" stroke="#fff" stroke-opacity="0.09" stroke-width="1.3"/>
<line x1="205.09" y1="649.51" x2="215.02" y2="649.51" stroke="#fff" stroke-opacity="0.09" stroke-width="1.3"/>
<line x1="205.09" y1="610.13" x2="215.02" y2="610.13" stroke="#fff" stroke-opacity="0.09" stroke-width="1.3"/>
<line x1="205.09" y1="629.82" x2="215.02" y2="629.82" stroke="#fff" stroke-opacity="0.09" stroke-width="1.3"/>
<line x1="215.02" y1="649.51" x2="224.96" y2="649.51" stroke="#fff" stroke-opacity="0.09" stroke-width="1.3"/>
<line x1="215.02" y1="629.82" x2="224.96" y2="629.82" stroke="#fff" stroke-opacity="0.09" stroke-width="1.3"/>
<line x1="224.96" y1="649.51" x2="234.90" y2="649.51" stroke="#fff" stroke-opacity="0.09" stroke-width="1.3"/>
<line x1="224.96" y1="610.13" x2="234.90" y2="610.13" stroke="#fff" stroke-opacity="0.09" stroke-width="1.3"/>
<line x1="224.96" y1="629.82" x2="234.90" y2="629.82" stroke="#fff" stroke-opacity="0.09" stroke-width="1.3"/>
<line x1="234.90" y1="649.51" x2="244.84" y2="649.51" stroke="#fff" stroke-opacity="0.09" stroke-width="1.3"/>
<line x1="234.90" y1="610.13" x2="244.84" y2="610.13" stroke="#fff" stroke-opacity="0.09" stroke-width="1.3"/>
<line x1="234.90" y1="629.82" x2="244.84" y2="629.82" stroke="#fff" stroke-opacity="0.09" stroke-width="1.3"/>
<line x1="277.78" y1="649.51" x2="308.02" y2="649.51" stroke="#fff" stroke-opacity="0.09" stroke-width="1.3"/>
<line x1="277.78" y1="610.13" x2="308.02" y2="610.13" stroke="#fff" stroke-opacity="0.09" stroke-width="1.3"/>
<line x1="277.78" y1="570.75" x2="308.02" y2="570.75" stroke="#fff" stroke-opacity="0.09" stroke-width="1.3"/>
<line x1="277.78" y1="531.37" x2="308.02" y2="531.37" stroke="#fff" stroke-opacity="0.09" stroke-width="1.3"/>
<line x1="277.78" y1="629.82" x2="308.02" y2="629.82" stroke="#fff" stroke-opacity="0.09" stroke-width="1.3"/>
<line x1="277.78" y1="590.44" x2="308.02" y2="590.44" stroke="#fff" stroke-opacity="0.09" stroke-width="1.3"/>
<line x1="277.78" y1="551.06" x2="308.02" y2="551.06" stroke="#fff" stroke-opacity="0.09" stroke-width="1.3"/>
<line x1="292.90" y1="519.10" x2="292.90" y2="669.20" stroke="#fff" stroke-opacity="0.09" stroke-width="1.3"/>
<line x1="328.18" y1="649.51" x2="358.42" y2="649.51" stroke="#fff" stroke-opacity="0.09" stroke-width="1.3"/>
<line x1="328.18" y1="610.13" x2="358.42" y2="610.13" stroke="#fff" stroke-opacity="0.09" stroke-width="1.3"/>
<line x1="328.18" y1="570.75" x2="358.42" y2="570.75" stroke="#fff" stroke-opacity="0.09" stroke-width="1.3"/>
<line x1="328.18" y1="531.37" x2="358.42" y2="531.37" stroke="#fff" stroke-opacity="0.09" stroke-width="1.3"/>
<line x1="328.18" y1="629.82" x2="358.42" y2="629.82" stroke="#fff" stroke-opacity="0.09" stroke-width="1.3"/>
<line x1="328.18" y1="590.44" x2="358.42" y2="590.44" stroke="#fff" stroke-opacity="0.09" stroke-width="1.3"/>
<line x1="328.18" y1="551.06" x2="358.42" y2="551.06" stroke="#fff" stroke-opacity="0.09" stroke-width="1.3"/>
<line x1="328.18" y1="511.68" x2="358.42" y2="511.68" stroke="#fff" stroke-opacity="0.09" stroke-width="1.3"/>
<line x1="343.30" y1="508.00" x2="343.30" y2="669.20" stroke="#fff" stroke-opacity="0.09" stroke-width="1.3"/>
<line x1="378.58" y1="649.51" x2="408.82" y2="649.51" stroke="#fff" stroke-opacity="0.09" stroke-width="1.3"/>
<line x1="378.58" y1="610.13" x2="408.82" y2="610.13" stroke="#fff" stroke-opacity="0.09" stroke-width="1.3"/>
<line x1="378.58" y1="570.75" x2="408.82" y2="570.75" stroke="#fff" stroke-opacity="0.09" stroke-width="1.3"/>
<line x1="378.58" y1="531.37" x2="408.82" y2="531.37" stroke="#fff" stroke-opacity="0.09" stroke-width="1.3"/>
<line x1="378.58" y1="629.82" x2="408.82" y2="629.82" stroke="#fff" stroke-opacity="0.09" stroke-width="1.3"/>
<line x1="378.58" y1="590.44" x2="408.82" y2="590.44" stroke="#fff" stroke-opacity="0.09" stroke-width="1.3"/>
<line x1="378.58" y1="551.06" x2="408.82" y2="551.06" stroke="#fff" stroke-opacity="0.09" stroke-width="1.3"/>
<line x1="393.70" y1="528.20" x2="393.70" y2="669.20" stroke="#fff" stroke-opacity="0.09" stroke-width="1.3"/>
<line x1="428.98" y1="649.51" x2="459.22" y2="649.51" stroke="#fff" stroke-opacity="0.09" stroke-width="1.3"/>
<line x1="428.98" y1="610.13" x2="459.22" y2="610.13" stroke="#fff" stroke-opacity="0.09" stroke-width="1.3"/>
<line x1="428.98" y1="570.75" x2="459.22" y2="570.75" stroke="#fff" stroke-opacity="0.09" stroke-width="1.3"/>
<line x1="428.98" y1="531.37" x2="459.22" y2="531.37" stroke="#fff" stroke-opacity="0.09" stroke-width="1.3"/>
<line x1="428.98" y1="629.82" x2="459.22" y2="629.82" stroke="#fff" stroke-opacity="0.09" stroke-width="1.3"/>
<line x1="428.98" y1="590.44" x2="459.22" y2="590.44" stroke="#fff" stroke-opacity="0.09" stroke-width="1.3"/>
<line x1="428.98" y1="551.06" x2="459.22" y2="551.06" stroke="#fff" stroke-opacity="0.09" stroke-width="1.3"/>
<line x1="444.10" y1="516.30" x2="444.10" y2="669.20" stroke="#fff" stroke-opacity="0.09" stroke-width="1.3"/>
<line x1="493.02" y1="649.51" x2="502.96" y2="649.51" stroke="#fff" stroke-opacity="0.09" stroke-width="1.3"/>
<line x1="493.02" y1="610.13" x2="502.96" y2="610.13" stroke="#fff" stroke-opacity="0.09" stroke-width="1.3"/>
<line x1="493.02" y1="570.75" x2="502.96" y2="570.75" stroke="#fff" stroke-opacity="0.09" stroke-width="1.3"/>
<line x1="493.02" y1="629.82" x2="502.96" y2="629.82" stroke="#fff" stroke-opacity="0.09" stroke-width="1.3"/>
<line x1="493.02" y1="590.44" x2="502.96" y2="590.44" stroke="#fff" stroke-opacity="0.09" stroke-width="1.3"/>
<line x1="502.96" y1="649.51" x2="512.90" y2="649.51" stroke="#fff" stroke-opacity="0.09" stroke-width="1.3"/>
<line x1="502.96" y1="610.13" x2="512.90" y2="610.13" stroke="#fff" stroke-opacity="0.09" stroke-width="1.3"/>
<line x1="502.96" y1="570.75" x2="512.90" y2="570.75" stroke="#fff" stroke-opacity="0.09" stroke-width="1.3"/>
<line x1="502.96" y1="629.82" x2="512.90" y2="629.82" stroke="#fff" stroke-opacity="0.09" stroke-width="1.3"/>
<line x1="502.96" y1="590.44" x2="512.90" y2="590.44" stroke="#fff" stroke-opacity="0.09" stroke-width="1.3"/>
<line x1="512.90" y1="649.51" x2="522.84" y2="649.51" stroke="#fff" stroke-opacity="0.09" stroke-width="1.3"/>
<line x1="512.90" y1="610.13" x2="522.84" y2="610.13" stroke="#fff" stroke-opacity="0.09" stroke-width="1.3"/>
<line x1="512.90" y1="570.75" x2="522.84" y2="570.75" stroke="#fff" stroke-opacity="0.09" stroke-width="1.3"/>
<line x1="512.90" y1="629.82" x2="522.84" y2="629.82" stroke="#fff" stroke-opacity="0.09" stroke-width="1.3"/>
<line x1="512.90" y1="590.44" x2="522.84" y2="590.44" stroke="#fff" stroke-opacity="0.09" stroke-width="1.3"/>
<line x1="512.90" y1="551.06" x2="522.84" y2="551.06" stroke="#fff" stroke-opacity="0.09" stroke-width="1.3"/>
<line x1="522.84" y1="649.51" x2="532.77" y2="649.51" stroke="#fff" stroke-opacity="0.09" stroke-width="1.3"/>
<line x1="522.84" y1="610.13" x2="532.77" y2="610.13" stroke="#fff" stroke-opacity="0.09" stroke-width="1.3"/>
<line x1="522.84" y1="570.75" x2="532.77" y2="570.75" stroke="#fff" stroke-opacity="0.09" stroke-width="1.3"/>
<line x1="522.84" y1="629.82" x2="532.77" y2="629.82" stroke="#fff" stroke-opacity="0.09" stroke-width="1.3"/>
<line x1="522.84" y1="590.44" x2="532.77" y2="590.44" stroke="#fff" stroke-opacity="0.09" stroke-width="1.3"/>
<line x1="522.84" y1="551.06" x2="532.77" y2="551.06" stroke="#fff" stroke-opacity="0.09" stroke-width="1.3"/>
<line x1="559.11" y1="649.51" x2="569.04" y2="649.51" stroke="#fff" stroke-opacity="0.09" stroke-width="1.3"/>
<line x1="559.11" y1="610.13" x2="569.04" y2="610.13" stroke="#fff" stroke-opacity="0.09" stroke-width="1.3"/>
<line x1="559.11" y1="629.82" x2="569.04" y2="629.82" stroke="#fff" stroke-opacity="0.09" stroke-width="1.3"/>
<line x1="569.04" y1="649.51" x2="578.98" y2="649.51" stroke="#fff" stroke-opacity="0.09" stroke-width="1.3"/>
<line x1="569.04" y1="610.13" x2="578.98" y2="610.13" stroke="#fff" stroke-opacity="0.09" stroke-width="1.3"/>
<line x1="569.04" y1="629.82" x2="578.98" y2="629.82" stroke="#fff" stroke-opacity="0.09" stroke-width="1.3"/>
<line x1="578.98" y1="649.51" x2="588.92" y2="649.51" stroke="#fff" stroke-opacity="0.09" stroke-width="1.3"/>
<line x1="578.98" y1="610.13" x2="588.92" y2="610.13" stroke="#fff" stroke-opacity="0.09" stroke-width="1.3"/>
<line x1="578.98" y1="629.82" x2="588.92" y2="629.82" stroke="#fff" stroke-opacity="0.09" stroke-width="1.3"/>
<line x1="588.92" y1="649.51" x2="598.86" y2="649.51" stroke="#fff" stroke-opacity="0.09" stroke-width="1.3"/>
<line x1="588.92" y1="610.13" x2="598.86" y2="610.13" stroke="#fff" stroke-opacity="0.09" stroke-width="1.3"/>
<line x1="588.92" y1="629.82" x2="598.86" y2="629.82" stroke="#fff" stroke-opacity="0.09" stroke-width="1.3"/>
<line x1="625.17" y1="649.51" x2="635.11" y2="649.51" stroke="#fff" stroke-opacity="0.09" stroke-width="1.3"/>
<line x1="625.17" y1="629.82" x2="635.11" y2="629.82" stroke="#fff" stroke-opacity="0.09" stroke-width="1.3"/>
<line x1="635.11" y1="649.51" x2="645.05" y2="649.51" stroke="#fff" stroke-opacity="0.09" stroke-width="1.3"/>
<line x1="645.05" y1="649.51" x2="654.99" y2="649.51" stroke="#fff" stroke-opacity="0.09" stroke-width="1.3"/>
<line x1="645.05" y1="629.82" x2="654.99" y2="629.82" stroke="#fff" stroke-opacity="0.09" stroke-width="1.3"/>
<line x1="654.99" y1="649.51" x2="664.92" y2="649.51" stroke="#fff" stroke-opacity="0.09" stroke-width="1.3"/>
<circle cx="77.10" cy="193.10" r="1.25" fill="#CC79A7" fill-opacity="1" stroke="#1a1a1a" stroke-width="0.8"/>
<circle cx="76.30" cy="197.90" r="1.25" fill="#CC79A7" fill-opacity="1" stroke="#1a1a1a" stroke-width="0.8"/>
<circle cx="75.30" cy="199.40" r="1.25" fill="#CC79A7" fill-opacity="1" stroke="#1a1a1a" stroke-width="0.8"/>
<circle cx="79.70" cy="202.40" r="1.25" fill="#CC79A7" fill-opacity="1" stroke="#1a1a1a" stroke-width="0.8"/>
<circle cx="75.00" cy="206.00" r="1.25" fill="#CC79A7" fill-opacity="1" stroke="#1a1a1a" stroke-width="0.8"/>
<circle cx="78.00" cy="205.00" r="1.25" fill="#CC79A7" fill-opacity="1" stroke="#1a1a1a" stroke-width="0.8"/>
<path d="M75.84,196.60H79.24M77.54,196.60V205.70M75.84,205.70H79.24" stroke="#303030" stroke-width="1.2" fill="none"/>
<circle cx="90.40" cy="189.80" r="1.25" fill="#F4A582" fill-opacity="1" stroke="#1a1a1a" stroke-width="0.8"/>
<circle cx="88.30" cy="200.60" r="1.25" fill="#F4A582" fill-opacity="1" stroke="#1a1a1a" stroke-width="0.8"/>
<circle cx="87.20" cy="204.70" r="1.25" fill="#F4A582" fill-opacity="1" stroke="#1a1a1a" stroke-width="0.8"/>
<circle cx="84.00" cy="207.40" r="1.25" fill="#F4A582" fill-opacity="1" stroke="#1a1a1a" stroke-width="0.8"/>
<circle cx="86.50" cy="207.50" r="1.25" fill="#F4A582" fill-opacity="1" stroke="#1a1a1a" stroke-width="0.8"/>
<circle cx="90.40" cy="212.30" r="1.25" fill="#F4A582" fill-opacity="1" stroke="#1a1a1a" stroke-width="0.8"/>
<path d="M85.78,199.40H89.18M87.48,199.40V208.30M85.78,208.30H89.18" stroke="#303030" stroke-width="1.2" fill="none"/>
<circle cx="98.60" cy="204.80" r="1.25" fill="#92C5DE" fill-opacity="1" stroke="#1a1a1a" stroke-width="0.8"/>
<circle cx="100.50" cy="209.50" r="1.25" fill="#92C5DE" fill-opacity="1" stroke="#1a1a1a" stroke-width="0.8"/>
<circle cx="94.20" cy="212.30" r="1.25" fill="#92C5DE" fill-opacity="1" stroke="#1a1a1a" stroke-width="0.8"/>
<circle cx="97.50" cy="214.00" r="1.25" fill="#92C5DE" fill-opacity="1" stroke="#1a1a1a" stroke-width="0.8"/>
<circle cx="99.40" cy="215.00" r="1.25" fill="#92C5DE" fill-opacity="1" stroke="#1a1a1a" stroke-width="0.8"/>
<circle cx="98.00" cy="216.50" r="1.25" fill="#92C5DE" fill-opacity="1" stroke="#1a1a1a" stroke-width="0.8"/>
<path d="M95.72,206.70H99.12M97.42,206.70V214.40M95.72,214.40H99.12" stroke="#303030" stroke-width="1.2" fill="none"/>
<circle cx="104.60" cy="201.20" r="1.25" fill="#0571B0" fill-opacity="1" stroke="#1a1a1a" stroke-width="0.8"/>
<circle cx="109.70" cy="200.60" r="1.25" fill="#0571B0" fill-opacity="1" stroke="#1a1a1a" stroke-width="0.8"/>
<circle cx="106.50" cy="207.60" r="1.25" fill="#0571B0" fill-opacity="1" stroke="#1a1a1a" stroke-width="0.8"/>
<circle cx="105.00" cy="213.20" r="1.25" fill="#0571B0" fill-opacity="1" stroke="#1a1a1a" stroke-width="0.8"/>
<circle cx="109.70" cy="213.20" r="1.25" fill="#0571B0" fill-opacity="1" stroke="#1a1a1a" stroke-width="0.8"/>
<path d="M105.66,200.60H109.06M107.36,200.60V212.70M105.66,212.70H109.06" stroke="#303030" stroke-width="1.2" fill="none"/>
<circle cx="144.40" cy="164.30" r="1.25" fill="#CC79A7" fill-opacity="1" stroke="#1a1a1a" stroke-width="0.8"/>
<circle cx="145.10" cy="178.60" r="1.25" fill="#CC79A7" fill-opacity="1" stroke="#1a1a1a" stroke-width="0.8"/>
<circle cx="141.60" cy="186.40" r="1.25" fill="#CC79A7" fill-opacity="1" stroke="#1a1a1a" stroke-width="0.8"/>
<circle cx="142.70" cy="196.20" r="1.25" fill="#CC79A7" fill-opacity="1" stroke="#1a1a1a" stroke-width="0.8"/>
<circle cx="143.50" cy="197.50" r="1.25" fill="#CC79A7" fill-opacity="1" stroke="#1a1a1a" stroke-width="0.8"/>
<path d="M142.19,175.60H145.59M143.89,175.60V191.60M142.19,191.60H145.59" stroke="#303030" stroke-width="1.2" fill="none"/>
<circle cx="153.30" cy="191.60" r="1.25" fill="#F4A582" fill-opacity="1" stroke="#1a1a1a" stroke-width="0.8"/>
<circle cx="152.40" cy="197.40" r="1.25" fill="#F4A582" fill-opacity="1" stroke="#1a1a1a" stroke-width="0.8"/>
<circle cx="155.20" cy="199.50" r="1.25" fill="#F4A582" fill-opacity="1" stroke="#1a1a1a" stroke-width="0.8"/>
<circle cx="157.00" cy="194.70" r="1.25" fill="#F4A582" fill-opacity="1" stroke="#1a1a1a" stroke-width="0.8"/>
<circle cx="153.50" cy="201.00" r="1.25" fill="#F4A582" fill-opacity="1" stroke="#1a1a1a" stroke-width="0.8"/>
<circle cx="155.00" cy="202.50" r="1.25" fill="#F4A582" fill-opacity="1" stroke="#1a1a1a" stroke-width="0.8"/>
<path d="M152.13,191.80H155.53M153.83,191.80V202.70M152.13,202.70H155.53" stroke="#303030" stroke-width="1.2" fill="none"/>
<circle cx="164.70" cy="169.60" r="1.25" fill="#92C5DE" fill-opacity="1" stroke="#1a1a1a" stroke-width="0.8"/>
<circle cx="164.20" cy="184.20" r="1.25" fill="#92C5DE" fill-opacity="1" stroke="#1a1a1a" stroke-width="0.8"/>
<circle cx="165.00" cy="187.50" r="1.25" fill="#92C5DE" fill-opacity="1" stroke="#1a1a1a" stroke-width="0.8"/>
<circle cx="166.60" cy="190.30" r="1.25" fill="#92C5DE" fill-opacity="1" stroke="#1a1a1a" stroke-width="0.8"/>
<circle cx="163.50" cy="193.70" r="1.25" fill="#92C5DE" fill-opacity="1" stroke="#1a1a1a" stroke-width="0.8"/>
<path d="M162.07,176.60H165.47M163.77,176.60V194.00M162.07,194.00H165.47" stroke="#303030" stroke-width="1.2" fill="none"/>
<circle cx="174.20" cy="181.40" r="1.25" fill="#0571B0" fill-opacity="1" stroke="#1a1a1a" stroke-width="0.8"/>
<circle cx="173.10" cy="183.40" r="1.25" fill="#0571B0" fill-opacity="1" stroke="#1a1a1a" stroke-width="0.8"/>
<circle cx="172.60" cy="187.40" r="1.25" fill="#0571B0" fill-opacity="1" stroke="#1a1a1a" stroke-width="0.8"/>
<circle cx="174.80" cy="193.30" r="1.25" fill="#0571B0" fill-opacity="1" stroke="#1a1a1a" stroke-width="0.8"/>
<circle cx="172.50" cy="199.00" r="1.25" fill="#0571B0" fill-opacity="1" stroke="#1a1a1a" stroke-width="0.8"/>
<path d="M172.01,180.80H175.41M173.71,180.80V197.40M172.01,197.40H175.41" stroke="#303030" stroke-width="1.2" fill="none"/>
<circle cx="211.30" cy="74.50" r="1.25" fill="#CC79A7" fill-opacity="1" stroke="#1a1a1a" stroke-width="0.8"/>
<circle cx="209.20" cy="137.10" r="1.25" fill="#CC79A7" fill-opacity="1" stroke="#1a1a1a" stroke-width="0.8"/>
<circle cx="209.70" cy="145.80" r="1.25" fill="#CC79A7" fill-opacity="1" stroke="#1a1a1a" stroke-width="0.8"/>
<circle cx="208.80" cy="159.40" r="1.25" fill="#CC79A7" fill-opacity="1" stroke="#1a1a1a" stroke-width="0.8"/>
<circle cx="210.50" cy="161.00" r="1.25" fill="#CC79A7" fill-opacity="1" stroke="#1a1a1a" stroke-width="0.8"/>
<circle cx="210.00" cy="184.40" r="1.25" fill="#CC79A7" fill-opacity="1" stroke="#1a1a1a" stroke-width="0.8"/>
<path d="M208.35,121.40H211.75M210.05,121.40V166.10M208.35,166.10H211.75" stroke="#303030" stroke-width="1.2" fill="none"/>
<circle cx="218.00" cy="152.60" r="1.25" fill="#F4A582" fill-opacity="1" stroke="#1a1a1a" stroke-width="0.8"/>
<circle cx="220.50" cy="162.90" r="1.25" fill="#F4A582" fill-opacity="1" stroke="#1a1a1a" stroke-width="0.8"/>
<circle cx="217.20" cy="165.80" r="1.25" fill="#F4A582" fill-opacity="1" stroke="#1a1a1a" stroke-width="0.8"/>
<circle cx="222.40" cy="165.80" r="1.25" fill="#F4A582" fill-opacity="1" stroke="#1a1a1a" stroke-width="0.8"/>
<circle cx="217.50" cy="170.50" r="1.25" fill="#F4A582" fill-opacity="1" stroke="#1a1a1a" stroke-width="0.8"/>
<circle cx="220.50" cy="171.00" r="1.25" fill="#F4A582" fill-opacity="1" stroke="#1a1a1a" stroke-width="0.8"/>
<path d="M218.29,157.40H221.69M219.99,157.40V170.40M218.29,170.40H221.69" stroke="#303030" stroke-width="1.2" fill="none"/>
<circle cx="230.00" cy="142.00" r="1.25" fill="#92C5DE" fill-opacity="1" stroke="#1a1a1a" stroke-width="0.8"/>
<circle cx="229.40" cy="149.40" r="1.25" fill="#92C5DE" fill-opacity="1" stroke="#1a1a1a" stroke-width="0.8"/>
<circle cx="233.00" cy="159.20" r="1.25" fill="#92C5DE" fill-opacity="1" stroke="#1a1a1a" stroke-width="0.8"/>
<circle cx="229.40" cy="168.70" r="1.25" fill="#92C5DE" fill-opacity="1" stroke="#1a1a1a" stroke-width="0.8"/>
<circle cx="231.60" cy="176.60" r="1.25" fill="#92C5DE" fill-opacity="1" stroke="#1a1a1a" stroke-width="0.8"/>
<circle cx="229.60" cy="188.70" r="1.25" fill="#92C5DE" fill-opacity="1" stroke="#1a1a1a" stroke-width="0.8"/>
<path d="M228.23,149.90H231.63M229.93,149.90V177.00M228.23,177.00H231.63" stroke="#303030" stroke-width="1.2" fill="none"/>
<circle cx="240.50" cy="144.00" r="1.25" fill="#0571B0" fill-opacity="1" stroke="#1a1a1a" stroke-width="0.8"/>
<circle cx="239.00" cy="152.60" r="1.25" fill="#0571B0" fill-opacity="1" stroke="#1a1a1a" stroke-width="0.8"/>
<circle cx="242.00" cy="163.50" r="1.25" fill="#0571B0" fill-opacity="1" stroke="#1a1a1a" stroke-width="0.8"/>
<circle cx="242.50" cy="170.50" r="1.25" fill="#0571B0" fill-opacity="1" stroke="#1a1a1a" stroke-width="0.8"/>
<circle cx="240.00" cy="178.50" r="1.25" fill="#0571B0" fill-opacity="1" stroke="#1a1a1a" stroke-width="0.8"/>
<path d="M238.17,150.90H241.57M239.87,150.90V175.40M238.17,175.40H241.57" stroke="#303030" stroke-width="1.2" fill="none"/>
<circle cx="301.70" cy="69.80" r="2.2" fill="#CC79A7" fill-opacity="1" stroke="#1a1a1a" stroke-width="0.85"/>
<circle cx="287.10" cy="87.30" r="2.2" fill="#CC79A7" fill-opacity="1" stroke="#1a1a1a" stroke-width="0.85"/>
<circle cx="279.70" cy="92.40" r="2.2" fill="#CC79A7" fill-opacity="1" stroke="#1a1a1a" stroke-width="0.85"/>
<circle cx="301.90" cy="120.50" r="2.2" fill="#CC79A7" fill-opacity="1" stroke="#1a1a1a" stroke-width="0.85"/>
<circle cx="300.60" cy="135.40" r="2.2" fill="#CC79A7" fill-opacity="1" stroke="#1a1a1a" stroke-width="0.85"/>
<circle cx="297.60" cy="140.20" r="2.2" fill="#CC79A7" fill-opacity="1" stroke="#1a1a1a" stroke-width="0.85"/>
<path d="M287.90,83.20H297.90M292.90,83.20V128.40M287.90,128.40H297.90" stroke="#303030" stroke-width="1.45" fill="none"/>
<circle cx="333.30" cy="69.20" r="2.2" fill="#F4A582" fill-opacity="1" stroke="#1a1a1a" stroke-width="0.85"/>
<circle cx="334.70" cy="75.70" r="2.2" fill="#F4A582" fill-opacity="1" stroke="#1a1a1a" stroke-width="0.85"/>
<circle cx="354.60" cy="70.20" r="2.2" fill="#F4A582" fill-opacity="1" stroke="#1a1a1a" stroke-width="0.85"/>
<circle cx="355.40" cy="72.60" r="2.2" fill="#F4A582" fill-opacity="1" stroke="#1a1a1a" stroke-width="0.85"/>
<circle cx="328.70" cy="124.90" r="2.2" fill="#F4A582" fill-opacity="1" stroke="#1a1a1a" stroke-width="0.85"/>
<circle cx="351.30" cy="134.60" r="2.2" fill="#F4A582" fill-opacity="1" stroke="#1a1a1a" stroke-width="0.85"/>
<path d="M338.30,64.60H348.30M343.30,64.60V110.20M338.30,110.20H348.30" stroke="#303030" stroke-width="1.45" fill="none"/>
<circle cx="384.10" cy="91.60" r="2.2" fill="#92C5DE" fill-opacity="1" stroke="#1a1a1a" stroke-width="0.85"/>
<circle cx="386.80" cy="132.90" r="2.2" fill="#92C5DE" fill-opacity="1" stroke="#1a1a1a" stroke-width="0.85"/>
<circle cx="397.10" cy="132.90" r="2.2" fill="#92C5DE" fill-opacity="1" stroke="#1a1a1a" stroke-width="0.85"/>
<circle cx="404.60" cy="156.00" r="2.2" fill="#92C5DE" fill-opacity="1" stroke="#1a1a1a" stroke-width="0.85"/>
<circle cx="403.50" cy="160.60" r="2.2" fill="#92C5DE" fill-opacity="1" stroke="#1a1a1a" stroke-width="0.85"/>
<circle cx="408.30" cy="167.30" r="2.2" fill="#92C5DE" fill-opacity="1" stroke="#1a1a1a" stroke-width="0.85"/>
<path d="M388.70,115.50H398.70M393.70,115.50V156.10M388.70,156.10H398.70" stroke="#303030" stroke-width="1.45" fill="none"/>
<circle cx="454.90" cy="91.20" r="2.2" fill="#0571B0" fill-opacity="1" stroke="#1a1a1a" stroke-width="0.85"/>
<circle cx="455.30" cy="96.60" r="2.2" fill="#0571B0" fill-opacity="1" stroke="#1a1a1a" stroke-width="0.85"/>
<circle cx="452.80" cy="100.90" r="2.2" fill="#0571B0" fill-opacity="1" stroke="#1a1a1a" stroke-width="0.85"/>
<circle cx="433.50" cy="114.50" r="2.2" fill="#0571B0" fill-opacity="1" stroke="#1a1a1a" stroke-width="0.85"/>
<circle cx="434.80" cy="125.20" r="2.2" fill="#0571B0" fill-opacity="1" stroke="#1a1a1a" stroke-width="0.85"/>
<circle cx="444.60" cy="120.20" r="2.2" fill="#0571B0" fill-opacity="1" stroke="#1a1a1a" stroke-width="0.85"/>
<path d="M439.10,84.40H449.10M444.10,84.40V120.90M439.10,120.90H449.10" stroke="#303030" stroke-width="1.45" fill="none"/>
<circle cx="499.10" cy="71.10" r="1.25" fill="#CC79A7" fill-opacity="1" stroke="#1a1a1a" stroke-width="0.8"/>
<circle cx="497.80" cy="84.60" r="1.25" fill="#CC79A7" fill-opacity="1" stroke="#1a1a1a" stroke-width="0.8"/>
<circle cx="497.30" cy="89.40" r="1.25" fill="#CC79A7" fill-opacity="1" stroke="#1a1a1a" stroke-width="0.8"/>
<circle cx="500.50" cy="98.30" r="1.25" fill="#CC79A7" fill-opacity="1" stroke="#1a1a1a" stroke-width="0.8"/>
<circle cx="497.30" cy="101.70" r="1.25" fill="#CC79A7" fill-opacity="1" stroke="#1a1a1a" stroke-width="0.8"/>
<circle cx="499.90" cy="116.40" r="1.25" fill="#CC79A7" fill-opacity="1" stroke="#1a1a1a" stroke-width="0.8"/>
<path d="M496.29,78.40H499.69M497.99,78.40V109.10M496.29,109.10H499.69" stroke="#303030" stroke-width="1.2" fill="none"/>
<circle cx="505.40" cy="70.60" r="1.25" fill="#F4A582" fill-opacity="1" stroke="#1a1a1a" stroke-width="0.8"/>
<circle cx="506.00" cy="70.90" r="1.25" fill="#F4A582" fill-opacity="1" stroke="#1a1a1a" stroke-width="0.8"/>
<circle cx="508.20" cy="84.90" r="1.25" fill="#F4A582" fill-opacity="1" stroke="#1a1a1a" stroke-width="0.8"/>
<circle cx="504.80" cy="99.70" r="1.25" fill="#F4A582" fill-opacity="1" stroke="#1a1a1a" stroke-width="0.8"/>
<circle cx="507.60" cy="102.70" r="1.25" fill="#F4A582" fill-opacity="1" stroke="#1a1a1a" stroke-width="0.8"/>
<circle cx="510.50" cy="103.50" r="1.25" fill="#F4A582" fill-opacity="1" stroke="#1a1a1a" stroke-width="0.8"/>
<path d="M506.23,73.00H509.63M507.93,73.00V103.50M506.23,103.50H509.63" stroke="#303030" stroke-width="1.2" fill="none"/>
<circle cx="515.50" cy="58.70" r="1.25" fill="#92C5DE" fill-opacity="1" stroke="#1a1a1a" stroke-width="0.8"/>
<circle cx="516.50" cy="59.30" r="1.25" fill="#92C5DE" fill-opacity="1" stroke="#1a1a1a" stroke-width="0.8"/>
<circle cx="519.40" cy="102.50" r="1.25" fill="#92C5DE" fill-opacity="1" stroke="#1a1a1a" stroke-width="0.8"/>
<circle cx="519.40" cy="118.00" r="1.25" fill="#92C5DE" fill-opacity="1" stroke="#1a1a1a" stroke-width="0.8"/>
<circle cx="514.80" cy="128.00" r="1.25" fill="#92C5DE" fill-opacity="1" stroke="#1a1a1a" stroke-width="0.8"/>
<circle cx="514.80" cy="137.70" r="1.25" fill="#92C5DE" fill-opacity="1" stroke="#1a1a1a" stroke-width="0.8"/>
<path d="M516.17,80.50H519.57M517.87,80.50V120.60M516.17,120.60H519.57" stroke="#303030" stroke-width="1.2" fill="none"/>
<circle cx="524.80" cy="69.20" r="1.25" fill="#0571B0" fill-opacity="1" stroke="#1a1a1a" stroke-width="0.8"/>
<circle cx="529.60" cy="76.70" r="1.25" fill="#0571B0" fill-opacity="1" stroke="#1a1a1a" stroke-width="0.8"/>
<circle cx="527.80" cy="79.40" r="1.25" fill="#0571B0" fill-opacity="1" stroke="#1a1a1a" stroke-width="0.8"/>
<circle cx="525.00" cy="90.00" r="1.25" fill="#0571B0" fill-opacity="1" stroke="#1a1a1a" stroke-width="0.8"/>
<circle cx="530.30" cy="96.60" r="1.25" fill="#0571B0" fill-opacity="1" stroke="#1a1a1a" stroke-width="0.8"/>
<path d="M526.11,72.40H529.51M527.81,72.40V112.20M526.11,112.20H529.51" stroke="#303030" stroke-width="1.2" fill="none"/>
<circle cx="561.20" cy="116.40" r="1.25" fill="#CC79A7" fill-opacity="1" stroke="#1a1a1a" stroke-width="0.8"/>
<circle cx="561.50" cy="117.50" r="1.25" fill="#CC79A7" fill-opacity="1" stroke="#1a1a1a" stroke-width="0.8"/>
<circle cx="566.50" cy="130.50" r="1.25" fill="#CC79A7" fill-opacity="1" stroke="#1a1a1a" stroke-width="0.8"/>
<circle cx="563.80" cy="135.30" r="1.25" fill="#CC79A7" fill-opacity="1" stroke="#1a1a1a" stroke-width="0.8"/>
<circle cx="563.40" cy="141.40" r="1.25" fill="#CC79A7" fill-opacity="1" stroke="#1a1a1a" stroke-width="0.8"/>
<circle cx="564.30" cy="145.00" r="1.25" fill="#CC79A7" fill-opacity="1" stroke="#1a1a1a" stroke-width="0.8"/>
<path d="M562.37,121.40H565.77M564.07,121.40V141.70M562.37,141.70H565.77" stroke="#303030" stroke-width="1.2" fill="none"/>
<circle cx="572.90" cy="112.80" r="1.25" fill="#F4A582" fill-opacity="1" stroke="#1a1a1a" stroke-width="0.8"/>
<circle cx="575.20" cy="122.00" r="1.25" fill="#F4A582" fill-opacity="1" stroke="#1a1a1a" stroke-width="0.8"/>
<circle cx="576.30" cy="125.50" r="1.25" fill="#F4A582" fill-opacity="1" stroke="#1a1a1a" stroke-width="0.8"/>
<circle cx="572.60" cy="130.00" r="1.25" fill="#F4A582" fill-opacity="1" stroke="#1a1a1a" stroke-width="0.8"/>
<circle cx="573.00" cy="132.00" r="1.25" fill="#F4A582" fill-opacity="1" stroke="#1a1a1a" stroke-width="0.8"/>
<circle cx="574.00" cy="134.00" r="1.25" fill="#F4A582" fill-opacity="1" stroke="#1a1a1a" stroke-width="0.8"/>
<path d="M572.31,116.20H575.71M574.01,116.20V137.10M572.31,137.10H575.71" stroke="#303030" stroke-width="1.2" fill="none"/>
<circle cx="581.40" cy="125.60" r="1.25" fill="#92C5DE" fill-opacity="1" stroke="#1a1a1a" stroke-width="0.8"/>
<circle cx="581.00" cy="129.50" r="1.25" fill="#92C5DE" fill-opacity="1" stroke="#1a1a1a" stroke-width="0.8"/>
<circle cx="585.00" cy="163.40" r="1.25" fill="#92C5DE" fill-opacity="1" stroke="#1a1a1a" stroke-width="0.8"/>
<circle cx="585.40" cy="175.80" r="1.25" fill="#92C5DE" fill-opacity="1" stroke="#1a1a1a" stroke-width="0.8"/>
<circle cx="584.60" cy="193.00" r="1.25" fill="#92C5DE" fill-opacity="1" stroke="#1a1a1a" stroke-width="0.8"/>
<circle cx="582.00" cy="196.30" r="1.25" fill="#92C5DE" fill-opacity="1" stroke="#1a1a1a" stroke-width="0.8"/>
<path d="M582.25,147.60H585.65M583.95,147.60V180.20M582.25,180.20H585.65" stroke="#303030" stroke-width="1.2" fill="none"/>
<circle cx="593.00" cy="144.00" r="1.25" fill="#0571B0" fill-opacity="1" stroke="#1a1a1a" stroke-width="0.8"/>
<circle cx="595.60" cy="142.00" r="1.25" fill="#0571B0" fill-opacity="1" stroke="#1a1a1a" stroke-width="0.8"/>
<circle cx="591.00" cy="151.00" r="1.25" fill="#0571B0" fill-opacity="1" stroke="#1a1a1a" stroke-width="0.8"/>
<circle cx="593.80" cy="155.00" r="1.25" fill="#0571B0" fill-opacity="1" stroke="#1a1a1a" stroke-width="0.8"/>
<circle cx="597.30" cy="169.30" r="1.25" fill="#0571B0" fill-opacity="1" stroke="#1a1a1a" stroke-width="0.8"/>
<circle cx="594.60" cy="182.80" r="1.25" fill="#0571B0" fill-opacity="1" stroke="#1a1a1a" stroke-width="0.8"/>
<path d="M592.19,147.90H595.59M593.89,147.90V166.50M592.19,166.50H595.59" stroke="#303030" stroke-width="1.2" fill="none"/>
<circle cx="630.10" cy="166.80" r="1.25" fill="#CC79A7" fill-opacity="1" stroke="#1a1a1a" stroke-width="0.8"/>
<circle cx="631.60" cy="170.60" r="1.25" fill="#CC79A7" fill-opacity="1" stroke="#1a1a1a" stroke-width="0.8"/>
<circle cx="630.50" cy="175.70" r="1.25" fill="#CC79A7" fill-opacity="1" stroke="#1a1a1a" stroke-width="0.8"/>
<circle cx="629.50" cy="179.60" r="1.25" fill="#CC79A7" fill-opacity="1" stroke="#1a1a1a" stroke-width="0.8"/>
<circle cx="629.00" cy="180.80" r="1.25" fill="#CC79A7" fill-opacity="1" stroke="#1a1a1a" stroke-width="0.8"/>
<circle cx="627.00" cy="187.60" r="1.25" fill="#CC79A7" fill-opacity="1" stroke="#1a1a1a" stroke-width="0.8"/>
<path d="M628.44,169.10H631.84M630.14,169.10V182.20M628.44,182.20H631.84" stroke="#303030" stroke-width="1.2" fill="none"/>
<circle cx="639.80" cy="171.50" r="1.25" fill="#F4A582" fill-opacity="1" stroke="#1a1a1a" stroke-width="0.8"/>
<circle cx="639.50" cy="178.20" r="1.25" fill="#F4A582" fill-opacity="1" stroke="#1a1a1a" stroke-width="0.8"/>
<circle cx="642.50" cy="179.50" r="1.25" fill="#F4A582" fill-opacity="1" stroke="#1a1a1a" stroke-width="0.8"/>
<circle cx="637.80" cy="182.00" r="1.25" fill="#F4A582" fill-opacity="1" stroke="#1a1a1a" stroke-width="0.8"/>
<circle cx="640.00" cy="184.50" r="1.25" fill="#F4A582" fill-opacity="1" stroke="#1a1a1a" stroke-width="0.8"/>
<circle cx="637.20" cy="213.00" r="1.25" fill="#F4A582" fill-opacity="1" stroke="#1a1a1a" stroke-width="0.8"/>
<path d="M638.38,171.80H641.78M640.08,171.80V195.90M638.38,195.90H641.78" stroke="#303030" stroke-width="1.2" fill="none"/>
<circle cx="649.00" cy="173.70" r="1.25" fill="#92C5DE" fill-opacity="1" stroke="#1a1a1a" stroke-width="0.8"/>
<circle cx="652.70" cy="175.30" r="1.25" fill="#92C5DE" fill-opacity="1" stroke="#1a1a1a" stroke-width="0.8"/>
<circle cx="648.50" cy="179.40" r="1.25" fill="#92C5DE" fill-opacity="1" stroke="#1a1a1a" stroke-width="0.8"/>
<circle cx="647.50" cy="190.00" r="1.25" fill="#92C5DE" fill-opacity="1" stroke="#1a1a1a" stroke-width="0.8"/>
<circle cx="651.50" cy="201.00" r="1.25" fill="#92C5DE" fill-opacity="1" stroke="#1a1a1a" stroke-width="0.8"/>
<circle cx="648.30" cy="208.70" r="1.25" fill="#92C5DE" fill-opacity="1" stroke="#1a1a1a" stroke-width="0.8"/>
<path d="M648.32,179.00H651.72M650.02,179.00V197.40M648.32,197.40H651.72" stroke="#303030" stroke-width="1.2" fill="none"/>
<circle cx="656.80" cy="173.50" r="1.25" fill="#0571B0" fill-opacity="1" stroke="#1a1a1a" stroke-width="0.8"/>
<circle cx="662.60" cy="178.80" r="1.25" fill="#0571B0" fill-opacity="1" stroke="#1a1a1a" stroke-width="0.8"/>
<circle cx="662.80" cy="183.30" r="1.25" fill="#0571B0" fill-opacity="1" stroke="#1a1a1a" stroke-width="0.8"/>
<circle cx="660.00" cy="184.50" r="1.25" fill="#0571B0" fill-opacity="1" stroke="#1a1a1a" stroke-width="0.8"/>
<circle cx="656.80" cy="185.50" r="1.25" fill="#0571B0" fill-opacity="1" stroke="#1a1a1a" stroke-width="0.8"/>
<circle cx="659.50" cy="206.50" r="1.25" fill="#0571B0" fill-opacity="1" stroke="#1a1a1a" stroke-width="0.8"/>
<path d="M658.26,177.60H661.66M659.96,177.60V193.50M658.26,193.50H661.66" stroke="#303030" stroke-width="1.2" fill="none"/>
<circle cx="74.50" cy="414.20" r="1.25" fill="#CC79A7" fill-opacity="1" stroke="#1a1a1a" stroke-width="0.8"/>
<circle cx="77.00" cy="415.00" r="1.25" fill="#CC79A7" fill-opacity="1" stroke="#1a1a1a" stroke-width="0.8"/>
<circle cx="76.50" cy="419.50" r="1.25" fill="#CC79A7" fill-opacity="1" stroke="#1a1a1a" stroke-width="0.8"/>
<circle cx="79.80" cy="418.00" r="1.25" fill="#CC79A7" fill-opacity="1" stroke="#1a1a1a" stroke-width="0.8"/>
<circle cx="80.30" cy="420.50" r="1.25" fill="#CC79A7" fill-opacity="1" stroke="#1a1a1a" stroke-width="0.8"/>
<circle cx="78.70" cy="427.30" r="1.25" fill="#CC79A7" fill-opacity="1" stroke="#1a1a1a" stroke-width="0.8"/>
<path d="M75.84,416.40H79.24M77.54,416.40V421.30M75.84,421.30H79.24" stroke="#303030" stroke-width="1.2" fill="none"/>
<circle cx="86.70" cy="405.10" r="1.25" fill="#F4A582" fill-opacity="1" stroke="#1a1a1a" stroke-width="0.8"/>
<circle cx="84.30" cy="414.50" r="1.25" fill="#F4A582" fill-opacity="1" stroke="#1a1a1a" stroke-width="0.8"/>
<circle cx="89.80" cy="416.50" r="1.25" fill="#F4A582" fill-opacity="1" stroke="#1a1a1a" stroke-width="0.8"/>
<circle cx="84.50" cy="419.50" r="1.25" fill="#F4A582" fill-opacity="1" stroke="#1a1a1a" stroke-width="0.8"/>
<circle cx="84.20" cy="423.60" r="1.25" fill="#F4A582" fill-opacity="1" stroke="#1a1a1a" stroke-width="0.8"/>
<circle cx="84.50" cy="425.00" r="1.25" fill="#F4A582" fill-opacity="1" stroke="#1a1a1a" stroke-width="0.8"/>
<path d="M85.78,411.70H89.18M87.48,411.70V421.30M85.78,421.30H89.18" stroke="#303030" stroke-width="1.2" fill="none"/>
<circle cx="96.90" cy="406.50" r="1.25" fill="#92C5DE" fill-opacity="1" stroke="#1a1a1a" stroke-width="0.8"/>
<circle cx="95.20" cy="413.80" r="1.25" fill="#92C5DE" fill-opacity="1" stroke="#1a1a1a" stroke-width="0.8"/>
<circle cx="98.40" cy="414.00" r="1.25" fill="#92C5DE" fill-opacity="1" stroke="#1a1a1a" stroke-width="0.8"/>
<circle cx="97.00" cy="414.60" r="1.25" fill="#92C5DE" fill-opacity="1" stroke="#1a1a1a" stroke-width="0.8"/>
<circle cx="96.30" cy="414.20" r="1.25" fill="#92C5DE" fill-opacity="1" stroke="#1a1a1a" stroke-width="0.8"/>
<path d="M95.72,410.60H99.12M97.42,410.60V414.90M95.72,414.90H99.12" stroke="#303030" stroke-width="1.2" fill="none"/>
<circle cx="104.80" cy="410.20" r="1.25" fill="#0571B0" fill-opacity="1" stroke="#1a1a1a" stroke-width="0.8"/>
<circle cx="103.90" cy="416.30" r="1.25" fill="#0571B0" fill-opacity="1" stroke="#1a1a1a" stroke-width="0.8"/>
<circle cx="107.50" cy="416.80" r="1.25" fill="#0571B0" fill-opacity="1" stroke="#1a1a1a" stroke-width="0.8"/>
<circle cx="110.00" cy="416.50" r="1.25" fill="#0571B0" fill-opacity="1" stroke="#1a1a1a" stroke-width="0.8"/>
<circle cx="108.20" cy="420.50" r="1.25" fill="#0571B0" fill-opacity="1" stroke="#1a1a1a" stroke-width="0.8"/>
<circle cx="105.50" cy="412.70" r="1.25" fill="#0571B0" fill-opacity="1" stroke="#1a1a1a" stroke-width="0.8"/>
<path d="M105.66,412.40H109.06M107.36,412.40V418.20M105.66,418.20H109.06" stroke="#303030" stroke-width="1.2" fill="none"/>
<circle cx="146.80" cy="394.50" r="1.25" fill="#CC79A7" fill-opacity="1" stroke="#1a1a1a" stroke-width="0.8"/>
<circle cx="141.50" cy="399.50" r="1.25" fill="#CC79A7" fill-opacity="1" stroke="#1a1a1a" stroke-width="0.8"/>
<circle cx="142.30" cy="403.00" r="1.25" fill="#CC79A7" fill-opacity="1" stroke="#1a1a1a" stroke-width="0.8"/>
<circle cx="141.60" cy="405.60" r="1.25" fill="#CC79A7" fill-opacity="1" stroke="#1a1a1a" stroke-width="0.8"/>
<circle cx="142.00" cy="408.00" r="1.25" fill="#CC79A7" fill-opacity="1" stroke="#1a1a1a" stroke-width="0.8"/>
<circle cx="140.80" cy="403.20" r="1.25" fill="#CC79A7" fill-opacity="1" stroke="#1a1a1a" stroke-width="0.8"/>
<path d="M142.19,398.20H145.59M143.89,398.20V405.60M142.19,405.60H145.59" stroke="#303030" stroke-width="1.2" fill="none"/>
<circle cx="153.40" cy="397.60" r="1.25" fill="#F4A582" fill-opacity="1" stroke="#1a1a1a" stroke-width="0.8"/>
<circle cx="155.60" cy="399.30" r="1.25" fill="#F4A582" fill-opacity="1" stroke="#1a1a1a" stroke-width="0.8"/>
<circle cx="155.80" cy="402.60" r="1.25" fill="#F4A582" fill-opacity="1" stroke="#1a1a1a" stroke-width="0.8"/>
<circle cx="151.00" cy="408.00" r="1.25" fill="#F4A582" fill-opacity="1" stroke="#1a1a1a" stroke-width="0.8"/>
<circle cx="151.80" cy="409.00" r="1.25" fill="#F4A582" fill-opacity="1" stroke="#1a1a1a" stroke-width="0.8"/>
<circle cx="153.50" cy="411.50" r="1.25" fill="#F4A582" fill-opacity="1" stroke="#1a1a1a" stroke-width="0.8"/>
<path d="M152.13,400.30H155.53M153.83,400.30V408.00M152.13,408.00H155.53" stroke="#303030" stroke-width="1.2" fill="none"/>
<circle cx="166.50" cy="389.50" r="1.25" fill="#92C5DE" fill-opacity="1" stroke="#1a1a1a" stroke-width="0.8"/>
<circle cx="163.50" cy="392.30" r="1.25" fill="#92C5DE" fill-opacity="1" stroke="#1a1a1a" stroke-width="0.8"/>
<circle cx="163.00" cy="393.60" r="1.25" fill="#92C5DE" fill-opacity="1" stroke="#1a1a1a" stroke-width="0.8"/>
<circle cx="165.50" cy="398.30" r="1.25" fill="#92C5DE" fill-opacity="1" stroke="#1a1a1a" stroke-width="0.8"/>
<circle cx="161.50" cy="404.30" r="1.25" fill="#92C5DE" fill-opacity="1" stroke="#1a1a1a" stroke-width="0.8"/>
<circle cx="165.20" cy="403.00" r="1.25" fill="#92C5DE" fill-opacity="1" stroke="#1a1a1a" stroke-width="0.8"/>
<path d="M162.07,393.00H165.47M163.77,393.00V400.80M162.07,400.80H165.47" stroke="#303030" stroke-width="1.2" fill="none"/>
<circle cx="176.50" cy="387.50" r="1.25" fill="#0571B0" fill-opacity="1" stroke="#1a1a1a" stroke-width="0.8"/>
<circle cx="171.30" cy="395.70" r="1.25" fill="#0571B0" fill-opacity="1" stroke="#1a1a1a" stroke-width="0.8"/>
<circle cx="172.50" cy="400.60" r="1.25" fill="#0571B0" fill-opacity="1" stroke="#1a1a1a" stroke-width="0.8"/>
<circle cx="174.00" cy="402.00" r="1.25" fill="#0571B0" fill-opacity="1" stroke="#1a1a1a" stroke-width="0.8"/>
<circle cx="172.00" cy="404.50" r="1.25" fill="#0571B0" fill-opacity="1" stroke="#1a1a1a" stroke-width="0.8"/>
<circle cx="174.00" cy="406.00" r="1.25" fill="#0571B0" fill-opacity="1" stroke="#1a1a1a" stroke-width="0.8"/>
<path d="M172.01,395.00H175.41M173.71,395.00V403.20M172.01,403.20H175.41" stroke="#303030" stroke-width="1.2" fill="none"/>
<circle cx="209.60" cy="374.40" r="1.25" fill="#CC79A7" fill-opacity="1" stroke="#1a1a1a" stroke-width="0.8"/>
<circle cx="206.50" cy="393.00" r="1.25" fill="#CC79A7" fill-opacity="1" stroke="#1a1a1a" stroke-width="0.8"/>
<circle cx="207.50" cy="393.50" r="1.25" fill="#CC79A7" fill-opacity="1" stroke="#1a1a1a" stroke-width="0.8"/>
<circle cx="209.00" cy="397.80" r="1.25" fill="#CC79A7" fill-opacity="1" stroke="#1a1a1a" stroke-width="0.8"/>
<circle cx="210.00" cy="398.50" r="1.25" fill="#CC79A7" fill-opacity="1" stroke="#1a1a1a" stroke-width="0.8"/>
<circle cx="208.50" cy="405.00" r="1.25" fill="#CC79A7" fill-opacity="1" stroke="#1a1a1a" stroke-width="0.8"/>
<path d="M208.35,387.30H211.75M210.05,387.30V398.90M208.35,398.90H211.75" stroke="#303030" stroke-width="1.2" fill="none"/>
<circle cx="223.00" cy="382.40" r="1.25" fill="#F4A582" fill-opacity="1" stroke="#1a1a1a" stroke-width="0.8"/>
<circle cx="218.00" cy="385.90" r="1.25" fill="#F4A582" fill-opacity="1" stroke="#1a1a1a" stroke-width="0.8"/>
<circle cx="221.50" cy="393.00" r="1.25" fill="#F4A582" fill-opacity="1" stroke="#1a1a1a" stroke-width="0.8"/>
<circle cx="221.50" cy="396.50" r="1.25" fill="#F4A582" fill-opacity="1" stroke="#1a1a1a" stroke-width="0.8"/>
<circle cx="219.50" cy="398.50" r="1.25" fill="#F4A582" fill-opacity="1" stroke="#1a1a1a" stroke-width="0.8"/>
<circle cx="219.30" cy="400.30" r="1.25" fill="#F4A582" fill-opacity="1" stroke="#1a1a1a" stroke-width="0.8"/>
<path d="M218.29,387.70H221.69M219.99,387.70V398.10M218.29,398.10H221.69" stroke="#303030" stroke-width="1.2" fill="none"/>
<circle cx="230.50" cy="379.00" r="1.25" fill="#92C5DE" fill-opacity="1" stroke="#1a1a1a" stroke-width="0.8"/>
<circle cx="229.50" cy="381.00" r="1.25" fill="#92C5DE" fill-opacity="1" stroke="#1a1a1a" stroke-width="0.8"/>
<circle cx="231.00" cy="385.50" r="1.25" fill="#92C5DE" fill-opacity="1" stroke="#1a1a1a" stroke-width="0.8"/>
<circle cx="232.50" cy="388.00" r="1.25" fill="#92C5DE" fill-opacity="1" stroke="#1a1a1a" stroke-width="0.8"/>
<circle cx="228.50" cy="389.30" r="1.25" fill="#92C5DE" fill-opacity="1" stroke="#1a1a1a" stroke-width="0.8"/>
<circle cx="232.00" cy="397.20" r="1.25" fill="#92C5DE" fill-opacity="1" stroke="#1a1a1a" stroke-width="0.8"/>
<path d="M228.23,381.00H231.63M229.93,381.00V395.60M228.23,395.60H231.63" stroke="#303030" stroke-width="1.2" fill="none"/>
<circle cx="237.50" cy="380.70" r="1.25" fill="#0571B0" fill-opacity="1" stroke="#1a1a1a" stroke-width="0.8"/>
<circle cx="241.70" cy="378.60" r="1.25" fill="#0571B0" fill-opacity="1" stroke="#1a1a1a" stroke-width="0.8"/>
<circle cx="238.80" cy="387.00" r="1.25" fill="#0571B0" fill-opacity="1" stroke="#1a1a1a" stroke-width="0.8"/>
<circle cx="239.50" cy="393.60" r="1.25" fill="#0571B0" fill-opacity="1" stroke="#1a1a1a" stroke-width="0.8"/>
<circle cx="242.00" cy="393.40" r="1.25" fill="#0571B0" fill-opacity="1" stroke="#1a1a1a" stroke-width="0.8"/>
<circle cx="242.50" cy="400.30" r="1.25" fill="#0571B0" fill-opacity="1" stroke="#1a1a1a" stroke-width="0.8"/>
<path d="M238.17,382.40H241.57M239.87,382.40V395.60M238.17,395.60H241.57" stroke="#303030" stroke-width="1.2" fill="none"/>
<circle cx="291.20" cy="262.10" r="2.2" fill="#CC79A7" fill-opacity="1" stroke="#1a1a1a" stroke-width="0.85"/>
<circle cx="297.70" cy="277.40" r="2.2" fill="#CC79A7" fill-opacity="1" stroke="#1a1a1a" stroke-width="0.85"/>
<circle cx="300.80" cy="287.70" r="2.2" fill="#CC79A7" fill-opacity="1" stroke="#1a1a1a" stroke-width="0.85"/>
<circle cx="294.00" cy="301.20" r="2.2" fill="#CC79A7" fill-opacity="1" stroke="#1a1a1a" stroke-width="0.85"/>
<circle cx="304.30" cy="307.70" r="2.2" fill="#CC79A7" fill-opacity="1" stroke="#1a1a1a" stroke-width="0.85"/>
<circle cx="299.60" cy="312.80" r="2.2" fill="#CC79A7" fill-opacity="1" stroke="#1a1a1a" stroke-width="0.85"/>
<path d="M287.90,283.60H297.90M292.90,283.60V304.30M287.90,304.30H297.90" stroke="#303030" stroke-width="1.45" fill="none"/>
<circle cx="346.60" cy="262.60" r="2.2" fill="#F4A582" fill-opacity="1" stroke="#1a1a1a" stroke-width="0.85"/>
<circle cx="337.20" cy="284.20" r="2.2" fill="#F4A582" fill-opacity="1" stroke="#1a1a1a" stroke-width="0.85"/>
<circle cx="329.60" cy="292.10" r="2.2" fill="#F4A582" fill-opacity="1" stroke="#1a1a1a" stroke-width="0.85"/>
<circle cx="345.80" cy="296.20" r="2.2" fill="#F4A582" fill-opacity="1" stroke="#1a1a1a" stroke-width="0.85"/>
<circle cx="356.20" cy="294.70" r="2.2" fill="#F4A582" fill-opacity="1" stroke="#1a1a1a" stroke-width="0.85"/>
<circle cx="328.40" cy="302.60" r="2.2" fill="#F4A582" fill-opacity="1" stroke="#1a1a1a" stroke-width="0.85"/>
<path d="M338.30,281.10H348.30M343.30,281.10V301.20M338.30,301.20H348.30" stroke="#303030" stroke-width="1.45" fill="none"/>
<circle cx="393.80" cy="255.80" r="2.2" fill="#92C5DE" fill-opacity="1" stroke="#1a1a1a" stroke-width="0.85"/>
<circle cx="382.60" cy="271.60" r="2.2" fill="#92C5DE" fill-opacity="1" stroke="#1a1a1a" stroke-width="0.85"/>
<circle cx="407.70" cy="281.60" r="2.2" fill="#92C5DE" fill-opacity="1" stroke="#1a1a1a" stroke-width="0.85"/>
<circle cx="381.80" cy="284.70" r="2.2" fill="#92C5DE" fill-opacity="1" stroke="#1a1a1a" stroke-width="0.85"/>
<circle cx="396.60" cy="287.40" r="2.2" fill="#92C5DE" fill-opacity="1" stroke="#1a1a1a" stroke-width="0.85"/>
<circle cx="397.20" cy="296.50" r="2.2" fill="#92C5DE" fill-opacity="1" stroke="#1a1a1a" stroke-width="0.85"/>
<path d="M388.70,271.70H398.70M393.70,271.70V291.40M388.70,291.40H398.70" stroke="#303030" stroke-width="1.45" fill="none"/>
<circle cx="431.70" cy="269.70" r="2.2" fill="#0571B0" fill-opacity="1" stroke="#1a1a1a" stroke-width="0.85"/>
<circle cx="449.60" cy="273.00" r="2.2" fill="#0571B0" fill-opacity="1" stroke="#1a1a1a" stroke-width="0.85"/>
<circle cx="435.40" cy="287.90" r="2.2" fill="#0571B0" fill-opacity="1" stroke="#1a1a1a" stroke-width="0.85"/>
<circle cx="450.20" cy="293.10" r="2.2" fill="#0571B0" fill-opacity="1" stroke="#1a1a1a" stroke-width="0.85"/>
<circle cx="444.50" cy="296.80" r="2.2" fill="#0571B0" fill-opacity="1" stroke="#1a1a1a" stroke-width="0.85"/>
<circle cx="456.70" cy="304.80" r="2.2" fill="#0571B0" fill-opacity="1" stroke="#1a1a1a" stroke-width="0.85"/>
<path d="M439.10,281.10H449.10M444.10,281.10V299.30M439.10,299.30H449.10" stroke="#303030" stroke-width="1.45" fill="none"/>
<circle cx="494.60" cy="352.90" r="1.25" fill="#CC79A7" fill-opacity="1" stroke="#1a1a1a" stroke-width="0.8"/>
<circle cx="498.80" cy="354.10" r="1.25" fill="#CC79A7" fill-opacity="1" stroke="#1a1a1a" stroke-width="0.8"/>
<circle cx="499.00" cy="361.70" r="1.25" fill="#CC79A7" fill-opacity="1" stroke="#1a1a1a" stroke-width="0.8"/>
<circle cx="494.50" cy="364.20" r="1.25" fill="#CC79A7" fill-opacity="1" stroke="#1a1a1a" stroke-width="0.8"/>
<circle cx="494.60" cy="368.40" r="1.25" fill="#CC79A7" fill-opacity="1" stroke="#1a1a1a" stroke-width="0.8"/>
<circle cx="497.00" cy="364.80" r="1.25" fill="#CC79A7" fill-opacity="1" stroke="#1a1a1a" stroke-width="0.8"/>
<path d="M496.29,353.50H499.69M497.99,353.50V365.30M496.29,365.30H499.69" stroke="#303030" stroke-width="1.2" fill="none"/>
<circle cx="505.50" cy="345.50" r="1.25" fill="#F4A582" fill-opacity="1" stroke="#1a1a1a" stroke-width="0.8"/>
<circle cx="506.20" cy="346.50" r="1.25" fill="#F4A582" fill-opacity="1" stroke="#1a1a1a" stroke-width="0.8"/>
<circle cx="505.50" cy="364.80" r="1.25" fill="#F4A582" fill-opacity="1" stroke="#1a1a1a" stroke-width="0.8"/>
<circle cx="506.50" cy="369.50" r="1.25" fill="#F4A582" fill-opacity="1" stroke="#1a1a1a" stroke-width="0.8"/>
<circle cx="511.00" cy="372.50" r="1.25" fill="#F4A582" fill-opacity="1" stroke="#1a1a1a" stroke-width="0.8"/>
<circle cx="506.50" cy="376.00" r="1.25" fill="#F4A582" fill-opacity="1" stroke="#1a1a1a" stroke-width="0.8"/>
<path d="M506.23,354.70H509.63M507.93,354.70V369.90M506.23,369.90H509.63" stroke="#303030" stroke-width="1.2" fill="none"/>
<circle cx="515.30" cy="341.80" r="1.25" fill="#92C5DE" fill-opacity="1" stroke="#1a1a1a" stroke-width="0.8"/>
<circle cx="515.00" cy="351.00" r="1.25" fill="#92C5DE" fill-opacity="1" stroke="#1a1a1a" stroke-width="0.8"/>
<circle cx="518.50" cy="353.00" r="1.25" fill="#92C5DE" fill-opacity="1" stroke="#1a1a1a" stroke-width="0.8"/>
<circle cx="520.50" cy="357.00" r="1.25" fill="#92C5DE" fill-opacity="1" stroke="#1a1a1a" stroke-width="0.8"/>
<circle cx="520.00" cy="356.80" r="1.25" fill="#92C5DE" fill-opacity="1" stroke="#1a1a1a" stroke-width="0.8"/>
<path d="M516.17,342.50H519.57M517.87,342.50V355.30M516.17,355.30H519.57" stroke="#303030" stroke-width="1.2" fill="none"/>
<circle cx="528.30" cy="346.40" r="1.25" fill="#0571B0" fill-opacity="1" stroke="#1a1a1a" stroke-width="0.8"/>
<circle cx="528.00" cy="350.00" r="1.25" fill="#0571B0" fill-opacity="1" stroke="#1a1a1a" stroke-width="0.8"/>
<circle cx="525.30" cy="351.00" r="1.25" fill="#0571B0" fill-opacity="1" stroke="#1a1a1a" stroke-width="0.8"/>
<circle cx="530.80" cy="353.50" r="1.25" fill="#0571B0" fill-opacity="1" stroke="#1a1a1a" stroke-width="0.8"/>
<circle cx="528.00" cy="365.50" r="1.25" fill="#0571B0" fill-opacity="1" stroke="#1a1a1a" stroke-width="0.8"/>
<circle cx="524.40" cy="370.00" r="1.25" fill="#0571B0" fill-opacity="1" stroke="#1a1a1a" stroke-width="0.8"/>
<path d="M526.11,350.00H529.51M527.81,350.00V364.90M526.11,364.90H529.51" stroke="#303030" stroke-width="1.2" fill="none"/>
<circle cx="565.40" cy="384.00" r="1.25" fill="#CC79A7" fill-opacity="1" stroke="#1a1a1a" stroke-width="0.8"/>
<circle cx="566.20" cy="388.50" r="1.25" fill="#CC79A7" fill-opacity="1" stroke="#1a1a1a" stroke-width="0.8"/>
<circle cx="568.00" cy="390.20" r="1.25" fill="#CC79A7" fill-opacity="1" stroke="#1a1a1a" stroke-width="0.8"/>
<circle cx="562.00" cy="394.70" r="1.25" fill="#CC79A7" fill-opacity="1" stroke="#1a1a1a" stroke-width="0.8"/>
<circle cx="564.00" cy="395.50" r="1.25" fill="#CC79A7" fill-opacity="1" stroke="#1a1a1a" stroke-width="0.8"/>
<circle cx="563.50" cy="397.40" r="1.25" fill="#CC79A7" fill-opacity="1" stroke="#1a1a1a" stroke-width="0.8"/>
<path d="M562.37,386.30H565.77M564.07,386.30V395.20M562.37,395.20H565.77" stroke="#303030" stroke-width="1.2" fill="none"/>
<circle cx="572.20" cy="380.80" r="1.25" fill="#F4A582" fill-opacity="1" stroke="#1a1a1a" stroke-width="0.8"/>
<circle cx="575.80" cy="379.40" r="1.25" fill="#F4A582" fill-opacity="1" stroke="#1a1a1a" stroke-width="0.8"/>
<circle cx="576.50" cy="394.50" r="1.25" fill="#F4A582" fill-opacity="1" stroke="#1a1a1a" stroke-width="0.8"/>
<circle cx="573.50" cy="396.00" r="1.25" fill="#F4A582" fill-opacity="1" stroke="#1a1a1a" stroke-width="0.8"/>
<circle cx="572.50" cy="397.40" r="1.25" fill="#F4A582" fill-opacity="1" stroke="#1a1a1a" stroke-width="0.8"/>
<circle cx="575.20" cy="402.30" r="1.25" fill="#F4A582" fill-opacity="1" stroke="#1a1a1a" stroke-width="0.8"/>
<path d="M572.31,386.60H575.71M574.01,386.60V396.00M572.31,396.00H575.71" stroke="#303030" stroke-width="1.2" fill="none"/>
<circle cx="584.50" cy="376.50" r="1.25" fill="#92C5DE" fill-opacity="1" stroke="#1a1a1a" stroke-width="0.8"/>
<circle cx="581.00" cy="386.40" r="1.25" fill="#92C5DE" fill-opacity="1" stroke="#1a1a1a" stroke-width="0.8"/>
<circle cx="582.70" cy="387.60" r="1.25" fill="#92C5DE" fill-opacity="1" stroke="#1a1a1a" stroke-width="0.8"/>
<circle cx="585.30" cy="392.40" r="1.25" fill="#92C5DE" fill-opacity="1" stroke="#1a1a1a" stroke-width="0.8"/>
<circle cx="584.30" cy="393.60" r="1.25" fill="#92C5DE" fill-opacity="1" stroke="#1a1a1a" stroke-width="0.8"/>
<circle cx="582.50" cy="394.40" r="1.25" fill="#92C5DE" fill-opacity="1" stroke="#1a1a1a" stroke-width="0.8"/>
<path d="M582.25,383.80H585.65M583.95,383.80V392.80M582.25,392.80H585.65" stroke="#303030" stroke-width="1.2" fill="none"/>
<circle cx="592.80" cy="378.30" r="1.25" fill="#0571B0" fill-opacity="1" stroke="#1a1a1a" stroke-width="0.8"/>
<circle cx="595.80" cy="383.30" r="1.25" fill="#0571B0" fill-opacity="1" stroke="#1a1a1a" stroke-width="0.8"/>
<circle cx="594.20" cy="388.00" r="1.25" fill="#0571B0" fill-opacity="1" stroke="#1a1a1a" stroke-width="0.8"/>
<circle cx="596.30" cy="390.60" r="1.25" fill="#0571B0" fill-opacity="1" stroke="#1a1a1a" stroke-width="0.8"/>
<circle cx="590.80" cy="395.70" r="1.25" fill="#0571B0" fill-opacity="1" stroke="#1a1a1a" stroke-width="0.8"/>
<circle cx="593.50" cy="399.30" r="1.25" fill="#0571B0" fill-opacity="1" stroke="#1a1a1a" stroke-width="0.8"/>
<path d="M592.19,383.20H595.59M593.89,383.20V395.70M592.19,395.70H595.59" stroke="#303030" stroke-width="1.2" fill="none"/>
<circle cx="632.50" cy="403.70" r="1.25" fill="#CC79A7" fill-opacity="1" stroke="#1a1a1a" stroke-width="0.8"/>
<circle cx="633.80" cy="405.30" r="1.25" fill="#CC79A7" fill-opacity="1" stroke="#1a1a1a" stroke-width="0.8"/>
<circle cx="631.00" cy="408.50" r="1.25" fill="#CC79A7" fill-opacity="1" stroke="#1a1a1a" stroke-width="0.8"/>
<circle cx="632.50" cy="410.00" r="1.25" fill="#CC79A7" fill-opacity="1" stroke="#1a1a1a" stroke-width="0.8"/>
<circle cx="629.00" cy="411.50" r="1.25" fill="#CC79A7" fill-opacity="1" stroke="#1a1a1a" stroke-width="0.8"/>
<circle cx="627.50" cy="412.40" r="1.25" fill="#CC79A7" fill-opacity="1" stroke="#1a1a1a" stroke-width="0.8"/>
<path d="M628.44,404.10H631.84M630.14,404.10V410.30M628.44,410.30H631.84" stroke="#303030" stroke-width="1.2" fill="none"/>
<circle cx="638.00" cy="400.50" r="1.25" fill="#F4A582" fill-opacity="1" stroke="#1a1a1a" stroke-width="0.8"/>
<circle cx="642.40" cy="399.50" r="1.25" fill="#F4A582" fill-opacity="1" stroke="#1a1a1a" stroke-width="0.8"/>
<circle cx="638.50" cy="405.00" r="1.25" fill="#F4A582" fill-opacity="1" stroke="#1a1a1a" stroke-width="0.8"/>
<circle cx="637.50" cy="409.50" r="1.25" fill="#F4A582" fill-opacity="1" stroke="#1a1a1a" stroke-width="0.8"/>
<circle cx="641.50" cy="410.60" r="1.25" fill="#F4A582" fill-opacity="1" stroke="#1a1a1a" stroke-width="0.8"/>
<circle cx="643.70" cy="409.00" r="1.25" fill="#F4A582" fill-opacity="1" stroke="#1a1a1a" stroke-width="0.8"/>
<path d="M638.38,401.60H641.78M640.08,401.60V408.70M638.38,408.70H641.78" stroke="#303030" stroke-width="1.2" fill="none"/>
<circle cx="651.80" cy="391.20" r="1.25" fill="#92C5DE" fill-opacity="1" stroke="#1a1a1a" stroke-width="0.8"/>
<circle cx="650.30" cy="397.50" r="1.25" fill="#92C5DE" fill-opacity="1" stroke="#1a1a1a" stroke-width="0.8"/>
<circle cx="647.50" cy="401.80" r="1.25" fill="#92C5DE" fill-opacity="1" stroke="#1a1a1a" stroke-width="0.8"/>
<circle cx="651.00" cy="401.50" r="1.25" fill="#92C5DE" fill-opacity="1" stroke="#1a1a1a" stroke-width="0.8"/>
<circle cx="653.50" cy="401.30" r="1.25" fill="#92C5DE" fill-opacity="1" stroke="#1a1a1a" stroke-width="0.8"/>
<circle cx="650.50" cy="407.40" r="1.25" fill="#92C5DE" fill-opacity="1" stroke="#1a1a1a" stroke-width="0.8"/>
<path d="M648.32,397.00H651.72M650.02,397.00V403.40M648.32,403.40H651.72" stroke="#303030" stroke-width="1.2" fill="none"/>
<circle cx="661.50" cy="398.70" r="1.25" fill="#0571B0" fill-opacity="1" stroke="#1a1a1a" stroke-width="0.8"/>
<circle cx="663.00" cy="399.70" r="1.25" fill="#0571B0" fill-opacity="1" stroke="#1a1a1a" stroke-width="0.8"/>
<circle cx="658.50" cy="407.00" r="1.25" fill="#0571B0" fill-opacity="1" stroke="#1a1a1a" stroke-width="0.8"/>
<circle cx="660.50" cy="407.50" r="1.25" fill="#0571B0" fill-opacity="1" stroke="#1a1a1a" stroke-width="0.8"/>
<circle cx="659.00" cy="410.00" r="1.25" fill="#0571B0" fill-opacity="1" stroke="#1a1a1a" stroke-width="0.8"/>
<circle cx="657.50" cy="408.50" r="1.25" fill="#0571B0" fill-opacity="1" stroke="#1a1a1a" stroke-width="0.8"/>
<path d="M658.26,401.60H661.66M659.96,401.60V407.80M658.26,407.80H661.66" stroke="#303030" stroke-width="1.2" fill="none"/>
<circle cx="74.20" cy="642.80" r="1.25" fill="#CC79A7" fill-opacity="1" stroke="#1a1a1a" stroke-width="0.8"/>
<circle cx="73.50" cy="643.50" r="1.25" fill="#CC79A7" fill-opacity="1" stroke="#1a1a1a" stroke-width="0.8"/>
<circle cx="79.60" cy="645.20" r="1.25" fill="#CC79A7" fill-opacity="1" stroke="#1a1a1a" stroke-width="0.8"/>
<circle cx="80.30" cy="647.50" r="1.25" fill="#CC79A7" fill-opacity="1" stroke="#1a1a1a" stroke-width="0.8"/>
<circle cx="78.50" cy="650.50" r="1.25" fill="#CC79A7" fill-opacity="1" stroke="#1a1a1a" stroke-width="0.8"/>
<circle cx="78.20" cy="655.40" r="1.25" fill="#CC79A7" fill-opacity="1" stroke="#1a1a1a" stroke-width="0.8"/>
<path d="M75.84,643.50H79.24M77.54,643.50V650.40M75.84,650.40H79.24" stroke="#303030" stroke-width="1.2" fill="none"/>
<circle cx="88.30" cy="640.30" r="1.25" fill="#F4A582" fill-opacity="1" stroke="#1a1a1a" stroke-width="0.8"/>
<circle cx="85.20" cy="642.40" r="1.25" fill="#F4A582" fill-opacity="1" stroke="#1a1a1a" stroke-width="0.8"/>
<circle cx="84.50" cy="649.50" r="1.25" fill="#F4A582" fill-opacity="1" stroke="#1a1a1a" stroke-width="0.8"/>
<circle cx="88.30" cy="648.30" r="1.25" fill="#F4A582" fill-opacity="1" stroke="#1a1a1a" stroke-width="0.8"/>
<circle cx="89.50" cy="650.60" r="1.25" fill="#F4A582" fill-opacity="1" stroke="#1a1a1a" stroke-width="0.8"/>
<circle cx="88.60" cy="653.60" r="1.25" fill="#F4A582" fill-opacity="1" stroke="#1a1a1a" stroke-width="0.8"/>
<path d="M85.78,643.30H89.18M87.48,643.30V651.20M85.78,651.20H89.18" stroke="#303030" stroke-width="1.2" fill="none"/>
<circle cx="94.00" cy="643.50" r="1.25" fill="#92C5DE" fill-opacity="1" stroke="#1a1a1a" stroke-width="0.8"/>
<circle cx="99.30" cy="646.70" r="1.25" fill="#92C5DE" fill-opacity="1" stroke="#1a1a1a" stroke-width="0.8"/>
<circle cx="94.50" cy="648.70" r="1.25" fill="#92C5DE" fill-opacity="1" stroke="#1a1a1a" stroke-width="0.8"/>
<circle cx="99.50" cy="650.00" r="1.25" fill="#92C5DE" fill-opacity="1" stroke="#1a1a1a" stroke-width="0.8"/>
<circle cx="96.00" cy="651.00" r="1.25" fill="#92C5DE" fill-opacity="1" stroke="#1a1a1a" stroke-width="0.8"/>
<circle cx="97.50" cy="652.00" r="1.25" fill="#92C5DE" fill-opacity="1" stroke="#1a1a1a" stroke-width="0.8"/>
<path d="M95.72,646.40H99.12M97.42,646.40V649.30M95.72,649.30H99.12" stroke="#303030" stroke-width="1.2" fill="none"/>
<circle cx="104.40" cy="643.30" r="1.25" fill="#0571B0" fill-opacity="1" stroke="#1a1a1a" stroke-width="0.8"/>
<circle cx="107.50" cy="645.30" r="1.25" fill="#0571B0" fill-opacity="1" stroke="#1a1a1a" stroke-width="0.8"/>
<circle cx="106.00" cy="649.50" r="1.25" fill="#0571B0" fill-opacity="1" stroke="#1a1a1a" stroke-width="0.8"/>
<circle cx="109.50" cy="649.50" r="1.25" fill="#0571B0" fill-opacity="1" stroke="#1a1a1a" stroke-width="0.8"/>
<circle cx="104.80" cy="649.30" r="1.25" fill="#0571B0" fill-opacity="1" stroke="#1a1a1a" stroke-width="0.8"/>
<circle cx="107.50" cy="652.60" r="1.25" fill="#0571B0" fill-opacity="1" stroke="#1a1a1a" stroke-width="0.8"/>
<path d="M105.66,645.30H109.06M107.36,645.30V649.70M105.66,649.70H109.06" stroke="#303030" stroke-width="1.2" fill="none"/>
<circle cx="140.30" cy="613.00" r="1.25" fill="#CC79A7" fill-opacity="1" stroke="#1a1a1a" stroke-width="0.8"/>
<circle cx="141.80" cy="626.30" r="1.25" fill="#CC79A7" fill-opacity="1" stroke="#1a1a1a" stroke-width="0.8"/>
<circle cx="145.20" cy="627.80" r="1.25" fill="#CC79A7" fill-opacity="1" stroke="#1a1a1a" stroke-width="0.8"/>
<circle cx="146.50" cy="629.50" r="1.25" fill="#CC79A7" fill-opacity="1" stroke="#1a1a1a" stroke-width="0.8"/>
<circle cx="143.30" cy="633.50" r="1.25" fill="#CC79A7" fill-opacity="1" stroke="#1a1a1a" stroke-width="0.8"/>
<circle cx="146.50" cy="637.50" r="1.25" fill="#CC79A7" fill-opacity="1" stroke="#1a1a1a" stroke-width="0.8"/>
<path d="M142.19,621.70H145.59M143.89,621.70V632.80M142.19,632.80H145.59" stroke="#303030" stroke-width="1.2" fill="none"/>
<circle cx="153.00" cy="631.50" r="1.25" fill="#F4A582" fill-opacity="1" stroke="#1a1a1a" stroke-width="0.8"/>
<circle cx="154.20" cy="633.30" r="1.25" fill="#F4A582" fill-opacity="1" stroke="#1a1a1a" stroke-width="0.8"/>
<circle cx="151.00" cy="635.50" r="1.25" fill="#F4A582" fill-opacity="1" stroke="#1a1a1a" stroke-width="0.8"/>
<circle cx="154.00" cy="639.00" r="1.25" fill="#F4A582" fill-opacity="1" stroke="#1a1a1a" stroke-width="0.8"/>
<circle cx="152.00" cy="639.50" r="1.25" fill="#F4A582" fill-opacity="1" stroke="#1a1a1a" stroke-width="0.8"/>
<circle cx="153.70" cy="643.30" r="1.25" fill="#F4A582" fill-opacity="1" stroke="#1a1a1a" stroke-width="0.8"/>
<path d="M152.13,631.90H155.53M153.83,631.90V640.60M152.13,640.60H155.53" stroke="#303030" stroke-width="1.2" fill="none"/>
<circle cx="163.30" cy="613.00" r="1.25" fill="#92C5DE" fill-opacity="1" stroke="#1a1a1a" stroke-width="0.8"/>
<circle cx="165.50" cy="622.50" r="1.25" fill="#92C5DE" fill-opacity="1" stroke="#1a1a1a" stroke-width="0.8"/>
<circle cx="164.00" cy="625.00" r="1.25" fill="#92C5DE" fill-opacity="1" stroke="#1a1a1a" stroke-width="0.8"/>
<circle cx="165.00" cy="631.00" r="1.25" fill="#92C5DE" fill-opacity="1" stroke="#1a1a1a" stroke-width="0.8"/>
<circle cx="164.50" cy="633.00" r="1.25" fill="#92C5DE" fill-opacity="1" stroke="#1a1a1a" stroke-width="0.8"/>
<circle cx="166.50" cy="635.00" r="1.25" fill="#92C5DE" fill-opacity="1" stroke="#1a1a1a" stroke-width="0.8"/>
<path d="M162.07,619.40H165.47M163.77,619.40V631.90M162.07,631.90H165.47" stroke="#303030" stroke-width="1.2" fill="none"/>
<circle cx="171.60" cy="621.50" r="1.25" fill="#0571B0" fill-opacity="1" stroke="#1a1a1a" stroke-width="0.8"/>
<circle cx="172.80" cy="623.50" r="1.25" fill="#0571B0" fill-opacity="1" stroke="#1a1a1a" stroke-width="0.8"/>
<circle cx="173.50" cy="626.80" r="1.25" fill="#0571B0" fill-opacity="1" stroke="#1a1a1a" stroke-width="0.8"/>
<circle cx="170.20" cy="632.40" r="1.25" fill="#0571B0" fill-opacity="1" stroke="#1a1a1a" stroke-width="0.8"/>
<circle cx="175.50" cy="631.30" r="1.25" fill="#0571B0" fill-opacity="1" stroke="#1a1a1a" stroke-width="0.8"/>
<circle cx="175.50" cy="639.00" r="1.25" fill="#0571B0" fill-opacity="1" stroke="#1a1a1a" stroke-width="0.8"/>
<path d="M172.01,622.10H175.41M173.71,622.10V635.10M172.01,635.10H175.41" stroke="#303030" stroke-width="1.2" fill="none"/>
<circle cx="211.00" cy="564.20" r="1.25" fill="#CC79A7" fill-opacity="1" stroke="#1a1a1a" stroke-width="0.8"/>
<circle cx="207.20" cy="585.70" r="1.25" fill="#CC79A7" fill-opacity="1" stroke="#1a1a1a" stroke-width="0.8"/>
<circle cx="206.80" cy="605.40" r="1.25" fill="#CC79A7" fill-opacity="1" stroke="#1a1a1a" stroke-width="0.8"/>
<circle cx="211.50" cy="609.60" r="1.25" fill="#CC79A7" fill-opacity="1" stroke="#1a1a1a" stroke-width="0.8"/>
<circle cx="211.00" cy="613.00" r="1.25" fill="#CC79A7" fill-opacity="1" stroke="#1a1a1a" stroke-width="0.8"/>
<circle cx="211.30" cy="630.30" r="1.25" fill="#CC79A7" fill-opacity="1" stroke="#1a1a1a" stroke-width="0.8"/>
<path d="M208.35,588.10H211.75M210.05,588.10V614.20M208.35,614.20H211.75" stroke="#303030" stroke-width="1.2" fill="none"/>
<circle cx="218.50" cy="606.40" r="1.25" fill="#F4A582" fill-opacity="1" stroke="#1a1a1a" stroke-width="0.8"/>
<circle cx="221.30" cy="606.40" r="1.25" fill="#F4A582" fill-opacity="1" stroke="#1a1a1a" stroke-width="0.8"/>
<circle cx="221.20" cy="611.00" r="1.25" fill="#F4A582" fill-opacity="1" stroke="#1a1a1a" stroke-width="0.8"/>
<circle cx="217.50" cy="614.00" r="1.25" fill="#F4A582" fill-opacity="1" stroke="#1a1a1a" stroke-width="0.8"/>
<circle cx="219.60" cy="616.00" r="1.25" fill="#F4A582" fill-opacity="1" stroke="#1a1a1a" stroke-width="0.8"/>
<circle cx="217.40" cy="619.50" r="1.25" fill="#F4A582" fill-opacity="1" stroke="#1a1a1a" stroke-width="0.8"/>
<path d="M218.29,606.40H221.69M219.99,606.40V614.80M218.29,614.80H221.69" stroke="#303030" stroke-width="1.2" fill="none"/>
<circle cx="227.30" cy="597.80" r="1.25" fill="#92C5DE" fill-opacity="1" stroke="#1a1a1a" stroke-width="0.8"/>
<circle cx="226.30" cy="606.70" r="1.25" fill="#92C5DE" fill-opacity="1" stroke="#1a1a1a" stroke-width="0.8"/>
<circle cx="230.00" cy="607.00" r="1.25" fill="#92C5DE" fill-opacity="1" stroke="#1a1a1a" stroke-width="0.8"/>
<circle cx="232.00" cy="609.70" r="1.25" fill="#92C5DE" fill-opacity="1" stroke="#1a1a1a" stroke-width="0.8"/>
<circle cx="229.60" cy="621.80" r="1.25" fill="#92C5DE" fill-opacity="1" stroke="#1a1a1a" stroke-width="0.8"/>
<circle cx="229.50" cy="608.50" r="1.25" fill="#92C5DE" fill-opacity="1" stroke="#1a1a1a" stroke-width="0.8"/>
<path d="M228.23,599.70H231.63M229.93,599.70V618.30M228.23,618.30H231.63" stroke="#303030" stroke-width="1.2" fill="none"/>
<circle cx="236.70" cy="597.20" r="1.25" fill="#0571B0" fill-opacity="1" stroke="#1a1a1a" stroke-width="0.8"/>
<circle cx="241.40" cy="597.50" r="1.25" fill="#0571B0" fill-opacity="1" stroke="#1a1a1a" stroke-width="0.8"/>
<circle cx="239.60" cy="608.00" r="1.25" fill="#0571B0" fill-opacity="1" stroke="#1a1a1a" stroke-width="0.8"/>
<circle cx="239.80" cy="612.50" r="1.25" fill="#0571B0" fill-opacity="1" stroke="#1a1a1a" stroke-width="0.8"/>
<circle cx="238.00" cy="619.50" r="1.25" fill="#0571B0" fill-opacity="1" stroke="#1a1a1a" stroke-width="0.8"/>
<circle cx="240.50" cy="619.50" r="1.25" fill="#0571B0" fill-opacity="1" stroke="#1a1a1a" stroke-width="0.8"/>
<path d="M238.17,600.30H241.57M239.87,600.30V618.30M238.17,618.30H241.57" stroke="#303030" stroke-width="1.2" fill="none"/>
<circle cx="304.60" cy="507.30" r="2.2" fill="#CC79A7" fill-opacity="1" stroke="#1a1a1a" stroke-width="0.85"/>
<circle cx="307.40" cy="511.50" r="2.2" fill="#CC79A7" fill-opacity="1" stroke="#1a1a1a" stroke-width="0.85"/>
<circle cx="299.30" cy="516.50" r="2.2" fill="#CC79A7" fill-opacity="1" stroke="#1a1a1a" stroke-width="0.85"/>
<circle cx="307.50" cy="518.20" r="2.2" fill="#CC79A7" fill-opacity="1" stroke="#1a1a1a" stroke-width="0.85"/>
<circle cx="305.70" cy="525.40" r="2.2" fill="#CC79A7" fill-opacity="1" stroke="#1a1a1a" stroke-width="0.85"/>
<circle cx="297.70" cy="534.10" r="2.2" fill="#CC79A7" fill-opacity="1" stroke="#1a1a1a" stroke-width="0.85"/>
<path d="M287.90,507.30H297.90M292.90,507.30V531.40M287.90,531.40H297.90" stroke="#303030" stroke-width="1.45" fill="none"/>
<circle cx="333.60" cy="500.60" r="2.2" fill="#F4A582" fill-opacity="1" stroke="#1a1a1a" stroke-width="0.85"/>
<circle cx="343.50" cy="502.20" r="2.2" fill="#F4A582" fill-opacity="1" stroke="#1a1a1a" stroke-width="0.85"/>
<circle cx="336.50" cy="506.90" r="2.2" fill="#F4A582" fill-opacity="1" stroke="#1a1a1a" stroke-width="0.85"/>
<circle cx="332.20" cy="515.40" r="2.2" fill="#F4A582" fill-opacity="1" stroke="#1a1a1a" stroke-width="0.85"/>
<circle cx="344.00" cy="523.50" r="2.2" fill="#F4A582" fill-opacity="1" stroke="#1a1a1a" stroke-width="0.85"/>
<path d="M338.30,494.90H348.30M343.30,494.90V520.90M338.30,520.90H348.30" stroke="#303030" stroke-width="1.45" fill="none"/>
<circle cx="396.00" cy="507.80" r="2.2" fill="#92C5DE" fill-opacity="1" stroke="#1a1a1a" stroke-width="0.85"/>
<circle cx="394.50" cy="510.50" r="2.2" fill="#92C5DE" fill-opacity="1" stroke="#1a1a1a" stroke-width="0.85"/>
<circle cx="383.10" cy="526.30" r="2.2" fill="#92C5DE" fill-opacity="1" stroke="#1a1a1a" stroke-width="0.85"/>
<circle cx="406.00" cy="538.00" r="2.2" fill="#92C5DE" fill-opacity="1" stroke="#1a1a1a" stroke-width="0.85"/>
<circle cx="407.00" cy="540.80" r="2.2" fill="#92C5DE" fill-opacity="1" stroke="#1a1a1a" stroke-width="0.85"/>
<circle cx="384.30" cy="550.00" r="2.2" fill="#92C5DE" fill-opacity="1" stroke="#1a1a1a" stroke-width="0.85"/>
<path d="M388.70,514.80H398.70M393.70,514.80V541.10M388.70,541.10H398.70" stroke="#303030" stroke-width="1.45" fill="none"/>
<circle cx="431.30" cy="508.20" r="2.2" fill="#0571B0" fill-opacity="1" stroke="#1a1a1a" stroke-width="0.85"/>
<circle cx="455.60" cy="511.50" r="2.2" fill="#0571B0" fill-opacity="1" stroke="#1a1a1a" stroke-width="0.85"/>
<circle cx="441.00" cy="514.20" r="2.2" fill="#0571B0" fill-opacity="1" stroke="#1a1a1a" stroke-width="0.85"/>
<circle cx="446.70" cy="517.20" r="2.2" fill="#0571B0" fill-opacity="1" stroke="#1a1a1a" stroke-width="0.85"/>
<circle cx="438.40" cy="523.70" r="2.2" fill="#0571B0" fill-opacity="1" stroke="#1a1a1a" stroke-width="0.85"/>
<circle cx="459.30" cy="529.40" r="2.2" fill="#0571B0" fill-opacity="1" stroke="#1a1a1a" stroke-width="0.85"/>
<path d="M439.10,503.40H449.10M444.10,503.40V528.70M439.10,528.70H449.10" stroke="#303030" stroke-width="1.45" fill="none"/>
<circle cx="496.80" cy="542.50" r="1.25" fill="#CC79A7" fill-opacity="1" stroke="#1a1a1a" stroke-width="0.8"/>
<circle cx="497.50" cy="544.50" r="1.25" fill="#CC79A7" fill-opacity="1" stroke="#1a1a1a" stroke-width="0.8"/>
<circle cx="498.00" cy="547.70" r="1.25" fill="#CC79A7" fill-opacity="1" stroke="#1a1a1a" stroke-width="0.8"/>
<circle cx="495.50" cy="560.50" r="1.25" fill="#CC79A7" fill-opacity="1" stroke="#1a1a1a" stroke-width="0.8"/>
<circle cx="498.50" cy="561.50" r="1.25" fill="#CC79A7" fill-opacity="1" stroke="#1a1a1a" stroke-width="0.8"/>
<circle cx="494.60" cy="566.50" r="1.25" fill="#CC79A7" fill-opacity="1" stroke="#1a1a1a" stroke-width="0.8"/>
<path d="M496.29,544.30H499.69M497.99,544.30V562.30M496.29,562.30H499.69" stroke="#303030" stroke-width="1.2" fill="none"/>
<circle cx="510.30" cy="544.50" r="1.25" fill="#F4A582" fill-opacity="1" stroke="#1a1a1a" stroke-width="0.8"/>
<circle cx="507.50" cy="548.00" r="1.25" fill="#F4A582" fill-opacity="1" stroke="#1a1a1a" stroke-width="0.8"/>
<circle cx="509.00" cy="549.00" r="1.25" fill="#F4A582" fill-opacity="1" stroke="#1a1a1a" stroke-width="0.8"/>
<circle cx="510.80" cy="548.50" r="1.25" fill="#F4A582" fill-opacity="1" stroke="#1a1a1a" stroke-width="0.8"/>
<circle cx="505.00" cy="559.30" r="1.25" fill="#F4A582" fill-opacity="1" stroke="#1a1a1a" stroke-width="0.8"/>
<circle cx="510.20" cy="565.00" r="1.25" fill="#F4A582" fill-opacity="1" stroke="#1a1a1a" stroke-width="0.8"/>
<path d="M506.23,541.60H509.63M507.93,541.60V563.20M506.23,563.20H509.63" stroke="#303030" stroke-width="1.2" fill="none"/>
<circle cx="516.80" cy="524.20" r="1.25" fill="#92C5DE" fill-opacity="1" stroke="#1a1a1a" stroke-width="0.8"/>
<circle cx="518.50" cy="529.70" r="1.25" fill="#92C5DE" fill-opacity="1" stroke="#1a1a1a" stroke-width="0.8"/>
<circle cx="514.70" cy="549.70" r="1.25" fill="#92C5DE" fill-opacity="1" stroke="#1a1a1a" stroke-width="0.8"/>
<circle cx="515.00" cy="557.20" r="1.25" fill="#92C5DE" fill-opacity="1" stroke="#1a1a1a" stroke-width="0.8"/>
<circle cx="514.50" cy="569.60" r="1.25" fill="#92C5DE" fill-opacity="1" stroke="#1a1a1a" stroke-width="0.8"/>
<circle cx="516.80" cy="573.00" r="1.25" fill="#92C5DE" fill-opacity="1" stroke="#1a1a1a" stroke-width="0.8"/>
<path d="M516.17,537.70H519.57M517.87,537.70V563.20M516.17,563.20H519.57" stroke="#303030" stroke-width="1.2" fill="none"/>
<circle cx="530.30" cy="536.50" r="1.25" fill="#0571B0" fill-opacity="1" stroke="#1a1a1a" stroke-width="0.8"/>
<circle cx="527.80" cy="538.10" r="1.25" fill="#0571B0" fill-opacity="1" stroke="#1a1a1a" stroke-width="0.8"/>
<circle cx="528.60" cy="540.50" r="1.25" fill="#0571B0" fill-opacity="1" stroke="#1a1a1a" stroke-width="0.8"/>
<circle cx="524.70" cy="543.30" r="1.25" fill="#0571B0" fill-opacity="1" stroke="#1a1a1a" stroke-width="0.8"/>
<circle cx="529.70" cy="561.30" r="1.25" fill="#0571B0" fill-opacity="1" stroke="#1a1a1a" stroke-width="0.8"/>
<circle cx="526.10" cy="583.40" r="1.25" fill="#0571B0" fill-opacity="1" stroke="#1a1a1a" stroke-width="0.8"/>
<path d="M526.11,538.00H529.51M527.81,538.00V563.40M526.11,563.40H529.51" stroke="#303030" stroke-width="1.2" fill="none"/>
<circle cx="565.50" cy="584.80" r="1.25" fill="#CC79A7" fill-opacity="1" stroke="#1a1a1a" stroke-width="0.8"/>
<circle cx="560.80" cy="588.00" r="1.25" fill="#CC79A7" fill-opacity="1" stroke="#1a1a1a" stroke-width="0.8"/>
<circle cx="564.00" cy="591.50" r="1.25" fill="#CC79A7" fill-opacity="1" stroke="#1a1a1a" stroke-width="0.8"/>
<circle cx="566.80" cy="591.50" r="1.25" fill="#CC79A7" fill-opacity="1" stroke="#1a1a1a" stroke-width="0.8"/>
<circle cx="561.30" cy="597.50" r="1.25" fill="#CC79A7" fill-opacity="1" stroke="#1a1a1a" stroke-width="0.8"/>
<circle cx="566.80" cy="604.60" r="1.25" fill="#CC79A7" fill-opacity="1" stroke="#1a1a1a" stroke-width="0.8"/>
<path d="M562.37,587.40H565.77M564.07,587.40V598.30M562.37,598.30H565.77" stroke="#303030" stroke-width="1.2" fill="none"/>
<circle cx="576.30" cy="585.50" r="1.25" fill="#F4A582" fill-opacity="1" stroke="#1a1a1a" stroke-width="0.8"/>
<circle cx="572.00" cy="588.00" r="1.25" fill="#F4A582" fill-opacity="1" stroke="#1a1a1a" stroke-width="0.8"/>
<circle cx="572.50" cy="589.60" r="1.25" fill="#F4A582" fill-opacity="1" stroke="#1a1a1a" stroke-width="0.8"/>
<circle cx="576.80" cy="592.50" r="1.25" fill="#F4A582" fill-opacity="1" stroke="#1a1a1a" stroke-width="0.8"/>
<circle cx="575.00" cy="595.50" r="1.25" fill="#F4A582" fill-opacity="1" stroke="#1a1a1a" stroke-width="0.8"/>
<circle cx="571.50" cy="597.60" r="1.25" fill="#F4A582" fill-opacity="1" stroke="#1a1a1a" stroke-width="0.8"/>
<path d="M572.31,584.50H575.71M574.01,584.50V597.10M572.31,597.10H575.71" stroke="#303030" stroke-width="1.2" fill="none"/>
<circle cx="582.00" cy="587.30" r="1.25" fill="#92C5DE" fill-opacity="1" stroke="#1a1a1a" stroke-width="0.8"/>
<circle cx="583.70" cy="594.20" r="1.25" fill="#92C5DE" fill-opacity="1" stroke="#1a1a1a" stroke-width="0.8"/>
<circle cx="585.50" cy="612.00" r="1.25" fill="#92C5DE" fill-opacity="1" stroke="#1a1a1a" stroke-width="0.8"/>
<circle cx="583.00" cy="616.50" r="1.25" fill="#92C5DE" fill-opacity="1" stroke="#1a1a1a" stroke-width="0.8"/>
<circle cx="584.50" cy="618.00" r="1.25" fill="#92C5DE" fill-opacity="1" stroke="#1a1a1a" stroke-width="0.8"/>
<circle cx="581.00" cy="625.50" r="1.25" fill="#92C5DE" fill-opacity="1" stroke="#1a1a1a" stroke-width="0.8"/>
<path d="M582.25,599.50H585.65M583.95,599.50V618.20M582.25,618.20H585.65" stroke="#303030" stroke-width="1.2" fill="none"/>
<circle cx="591.20" cy="590.90" r="1.25" fill="#0571B0" fill-opacity="1" stroke="#1a1a1a" stroke-width="0.8"/>
<circle cx="590.50" cy="599.30" r="1.25" fill="#0571B0" fill-opacity="1" stroke="#1a1a1a" stroke-width="0.8"/>
<circle cx="597.00" cy="603.80" r="1.25" fill="#0571B0" fill-opacity="1" stroke="#1a1a1a" stroke-width="0.8"/>
<circle cx="593.40" cy="608.50" r="1.25" fill="#0571B0" fill-opacity="1" stroke="#1a1a1a" stroke-width="0.8"/>
<circle cx="596.50" cy="608.50" r="1.25" fill="#0571B0" fill-opacity="1" stroke="#1a1a1a" stroke-width="0.8"/>
<circle cx="590.60" cy="623.50" r="1.25" fill="#0571B0" fill-opacity="1" stroke="#1a1a1a" stroke-width="0.8"/>
<path d="M592.19,598.80H595.59M593.89,598.80V612.10M592.19,612.10H595.59" stroke="#303030" stroke-width="1.2" fill="none"/>
<circle cx="627.40" cy="621.00" r="1.25" fill="#CC79A7" fill-opacity="1" stroke="#1a1a1a" stroke-width="0.8"/>
<circle cx="627.40" cy="625.00" r="1.25" fill="#CC79A7" fill-opacity="1" stroke="#1a1a1a" stroke-width="0.8"/>
<circle cx="632.50" cy="624.50" r="1.25" fill="#CC79A7" fill-opacity="1" stroke="#1a1a1a" stroke-width="0.8"/>
<circle cx="633.50" cy="625.50" r="1.25" fill="#CC79A7" fill-opacity="1" stroke="#1a1a1a" stroke-width="0.8"/>
<circle cx="630.40" cy="631.30" r="1.25" fill="#CC79A7" fill-opacity="1" stroke="#1a1a1a" stroke-width="0.8"/>
<circle cx="632.70" cy="634.60" r="1.25" fill="#CC79A7" fill-opacity="1" stroke="#1a1a1a" stroke-width="0.8"/>
<path d="M628.44,622.70H631.84M630.14,622.70V630.50M628.44,630.50H631.84" stroke="#303030" stroke-width="1.2" fill="none"/>
<circle cx="639.70" cy="620.00" r="1.25" fill="#F4A582" fill-opacity="1" stroke="#1a1a1a" stroke-width="0.8"/>
<circle cx="639.80" cy="622.00" r="1.25" fill="#F4A582" fill-opacity="1" stroke="#1a1a1a" stroke-width="0.8"/>
<circle cx="641.60" cy="627.50" r="1.25" fill="#F4A582" fill-opacity="1" stroke="#1a1a1a" stroke-width="0.8"/>
<circle cx="640.50" cy="629.60" r="1.25" fill="#F4A582" fill-opacity="1" stroke="#1a1a1a" stroke-width="0.8"/>
<circle cx="638.20" cy="632.00" r="1.25" fill="#F4A582" fill-opacity="1" stroke="#1a1a1a" stroke-width="0.8"/>
<circle cx="637.20" cy="647.70" r="1.25" fill="#F4A582" fill-opacity="1" stroke="#1a1a1a" stroke-width="0.8"/>
<path d="M638.38,623.30H641.78M640.08,623.30V638.30M638.38,638.30H641.78" stroke="#303030" stroke-width="1.2" fill="none"/>
<circle cx="650.50" cy="622.90" r="1.25" fill="#92C5DE" fill-opacity="1" stroke="#1a1a1a" stroke-width="0.8"/>
<circle cx="653.50" cy="622.80" r="1.25" fill="#92C5DE" fill-opacity="1" stroke="#1a1a1a" stroke-width="0.8"/>
<circle cx="648.50" cy="625.30" r="1.25" fill="#92C5DE" fill-opacity="1" stroke="#1a1a1a" stroke-width="0.8"/>
<circle cx="648.50" cy="634.50" r="1.25" fill="#92C5DE" fill-opacity="1" stroke="#1a1a1a" stroke-width="0.8"/>
<circle cx="652.70" cy="634.60" r="1.25" fill="#92C5DE" fill-opacity="1" stroke="#1a1a1a" stroke-width="0.8"/>
<circle cx="654.00" cy="635.00" r="1.25" fill="#92C5DE" fill-opacity="1" stroke="#1a1a1a" stroke-width="0.8"/>
<path d="M648.32,625.20H651.72M650.02,625.20V633.10M648.32,633.10H651.72" stroke="#303030" stroke-width="1.2" fill="none"/>
<circle cx="658.50" cy="626.00" r="1.25" fill="#0571B0" fill-opacity="1" stroke="#1a1a1a" stroke-width="0.8"/>
<circle cx="661.50" cy="626.70" r="1.25" fill="#0571B0" fill-opacity="1" stroke="#1a1a1a" stroke-width="0.8"/>
<circle cx="663.50" cy="628.20" r="1.25" fill="#0571B0" fill-opacity="1" stroke="#1a1a1a" stroke-width="0.8"/>
<circle cx="663.30" cy="630.50" r="1.25" fill="#0571B0" fill-opacity="1" stroke="#1a1a1a" stroke-width="0.8"/>
<circle cx="661.50" cy="631.30" r="1.25" fill="#0571B0" fill-opacity="1" stroke="#1a1a1a" stroke-width="0.8"/>
<circle cx="662.70" cy="644.30" r="1.25" fill="#0571B0" fill-opacity="1" stroke="#1a1a1a" stroke-width="0.8"/>
<path d="M658.26,625.80H661.66M659.96,625.80V635.30M658.26,635.30H661.66" stroke="#303030" stroke-width="1.2" fill="none"/>
<path d="M77.3,184.3V169.3H97.4V198.3" fill="none" stroke="#7A7A7A" stroke-width="1.5"/>
<path d="M343.5,59.4V44.8H393.8V110.9" fill="none" stroke="#7A7A7A" stroke-width="1.5"/>
<text x="87.6" y="175.5" text-anchor="middle" class="ast">*</text>
<text x="369.9" y="50.2" text-anchor="middle" class="ast">*</text>
<line x1="52" y1="0.5" x2="685" y2="0.5" stroke="#3d3d3d" stroke-width="2.0"/>
<line x1="52" y1="226.3" x2="685" y2="226.3" stroke="#3d3d3d" stroke-width="1.7"/>
<line x1="52" y1="452.6" x2="685" y2="452.6" stroke="#3d3d3d" stroke-width="1.7"/>
<line x1="52" y1="678.85" x2="685" y2="678.85" stroke="#3d3d3d" stroke-width="2.0"/>
<line x1="53.0" y1="0" x2="53.0" y2="680" stroke="#3d3d3d" stroke-width="1.9"/>
<line x1="263.0" y1="0" x2="263.0" y2="680" stroke="#3d3d3d" stroke-width="1.9"/>
<line x1="473.7" y1="0" x2="473.7" y2="680" stroke="#3d3d3d" stroke-width="1.9"/>
<line x1="684.3" y1="0" x2="684.3" y2="680" stroke="#3d3d3d" stroke-width="1.8"/>
<line x1="50.6" y1="213.50" x2="53" y2="213.50" stroke="#3d3d3d" stroke-width="1.1"/>
<text x="49.2" y="219.80" text-anchor="end" class="ax">0</text>
<line x1="50.6" y1="158.12" x2="53" y2="158.12" stroke="#3d3d3d" stroke-width="1.1"/>
<text x="49.2" y="164.42" text-anchor="end" class="ax">3</text>
<line x1="50.6" y1="102.74" x2="53" y2="102.74" stroke="#3d3d3d" stroke-width="1.1"/>
<text x="49.2" y="109.04" text-anchor="end" class="ax">6</text>
<line x1="50.6" y1="47.36" x2="53" y2="47.36" stroke="#3d3d3d" stroke-width="1.1"/>
<text x="49.2" y="53.66" text-anchor="end" class="ax">9</text>
<line x1="50.6" y1="443.10" x2="53" y2="443.10" stroke="#3d3d3d" stroke-width="1.1"/>
<text x="49.2" y="449.40" text-anchor="end" class="ax">0</text>
<line x1="50.6" y1="395.40" x2="53" y2="395.40" stroke="#3d3d3d" stroke-width="1.1"/>
<text x="49.2" y="401.70" text-anchor="end" class="ax">3</text>
<line x1="50.6" y1="347.70" x2="53" y2="347.70" stroke="#3d3d3d" stroke-width="1.1"/>
<text x="49.2" y="354.00" text-anchor="end" class="ax">6</text>
<line x1="50.6" y1="300.00" x2="53" y2="300.00" stroke="#3d3d3d" stroke-width="1.1"/>
<text x="49.2" y="306.30" text-anchor="end" class="ax">9</text>
<line x1="50.6" y1="252.30" x2="53" y2="252.30" stroke="#3d3d3d" stroke-width="1.1"/>
<text x="49.2" y="258.60" text-anchor="end" class="ax">12</text>
<line x1="50.6" y1="669.20" x2="53" y2="669.20" stroke="#3d3d3d" stroke-width="1.1"/>
<text x="49.2" y="675.50" text-anchor="end" class="ax">0</text>
<line x1="50.6" y1="629.82" x2="53" y2="629.82" stroke="#3d3d3d" stroke-width="1.1"/>
<text x="49.2" y="636.12" text-anchor="end" class="ax">4</text>
<line x1="50.6" y1="590.44" x2="53" y2="590.44" stroke="#3d3d3d" stroke-width="1.1"/>
<text x="49.2" y="596.74" text-anchor="end" class="ax">8</text>
<line x1="50.6" y1="551.06" x2="53" y2="551.06" stroke="#3d3d3d" stroke-width="1.1"/>
<text x="49.2" y="557.36" text-anchor="end" class="ax">12</text>
<line x1="50.6" y1="511.68" x2="53" y2="511.68" stroke="#3d3d3d" stroke-width="1.1"/>
<text x="49.2" y="517.98" text-anchor="end" class="ax">16</text>
<line x1="50.6" y1="472.30" x2="53" y2="472.30" stroke="#3d3d3d" stroke-width="1.1"/>
<text x="49.2" y="478.60" text-anchor="end" class="ax">20</text>
<line x1="92.45" y1="679" x2="92.45" y2="681.4" stroke="#3d3d3d" stroke-width="1.1"/>
<text x="92.45" y="695.8" text-anchor="middle" class="ax" style="font-size:18px">Before</text>
<line x1="158.80" y1="679" x2="158.80" y2="681.4" stroke="#3d3d3d" stroke-width="1.1"/>
<text x="158.80" y="695.8" text-anchor="middle" class="ax" style="font-size:18px">During</text>
<line x1="224.96" y1="679" x2="224.96" y2="681.4" stroke="#3d3d3d" stroke-width="1.1"/>
<text x="224.96" y="695.8" text-anchor="middle" class="ax" style="font-size:18px">After</text>
<line x1="292.90" y1="679" x2="292.90" y2="681.4" stroke="#3d3d3d" stroke-width="1.1"/>
<text x="292.90" y="695.8" text-anchor="middle" class="ax" style="font-size:18px">C</text>
<line x1="343.30" y1="679" x2="343.30" y2="681.4" stroke="#3d3d3d" stroke-width="1.1"/>
<text x="343.30" y="695.8" text-anchor="middle" class="ax" style="font-size:18px">S</text>
<line x1="393.70" y1="679" x2="393.70" y2="681.4" stroke="#3d3d3d" stroke-width="1.1"/>
<text x="393.70" y="695.8" text-anchor="middle" class="ax" style="font-size:18px">A</text>
<line x1="444.10" y1="679" x2="444.10" y2="681.4" stroke="#3d3d3d" stroke-width="1.1"/>
<text x="444.10" y="695.8" text-anchor="middle" class="ax" style="font-size:18px">SA</text>
<line x1="512.90" y1="679" x2="512.90" y2="681.4" stroke="#3d3d3d" stroke-width="1.1"/>
<text x="512.90" y="695.8" text-anchor="middle" class="ax" style="font-size:18px">Before</text>
<line x1="578.98" y1="679" x2="578.98" y2="681.4" stroke="#3d3d3d" stroke-width="1.1"/>
<text x="578.98" y="695.8" text-anchor="middle" class="ax" style="font-size:18px">During</text>
<line x1="645.05" y1="679" x2="645.05" y2="681.4" stroke="#3d3d3d" stroke-width="1.1"/>
<text x="645.05" y="695.8" text-anchor="middle" class="ax" style="font-size:18px">After</text>
<text transform="translate(69.95,21.75) scale(1,1.085)" text-anchor="middle" class="st">(a)</text>
<text transform="translate(280.80,21.75) scale(1,1.085)" text-anchor="middle" class="st">(b)</text>
<text transform="translate(490.50,21.75) scale(1,1.085)" text-anchor="middle" class="st">(c)</text>
<text transform="translate(69.95,246.70) scale(1,1.085)" text-anchor="middle" class="st">(d)</text>
<text transform="translate(280.80,246.70) scale(1,1.085)" text-anchor="middle" class="st">(e)</text>
<text transform="translate(490.50,246.70) scale(1,1.085)" text-anchor="middle" class="st">(f)</text>
<text transform="translate(69.95,474.25) scale(1,1.085)" text-anchor="middle" class="st">(g)</text>
<text transform="translate(280.80,474.25) scale(1,1.085)" text-anchor="middle" class="st">(h)</text>
<text transform="translate(490.50,474.25) scale(1,1.085)" text-anchor="middle" class="st">(i)</text>
<text transform="translate(87.34,21.05) scale(1,1.085)" class="st">Spring frost periods</text>
<text transform="translate(300.24,21.75) scale(1,1.085)" class="st">Growing seasons</text>
<text transform="translate(505.16,22.55) scale(1,1.085)" class="st">Autumn frost periods</text>
<text transform="translate(155.5,723.8) scale(1,1.04)" text-anchor="middle" class="at">Period</text>
<text transform="translate(372.35,723.8) scale(1,1.04)" text-anchor="middle" class="at">Treatment</text>
<text transform="translate(582.65,723.8) scale(1,1.04)" text-anchor="middle" class="at">Period</text>
<text transform="translate(18.00,211.25) rotate(-90)" font-size="17.7" fill="#000">NEP (μ mol CO</text>
<text transform="translate(21.10,87.02) rotate(-90)" font-size="12.4" fill="#000">2</text>
<text transform="translate(18.00,75.27) rotate(-90)" font-size="17.7" fill="#000">m</text>
<text transform="translate(8.60,60.31) rotate(-90)" font-size="12.4" fill="#000">−2</text>
<text transform="translate(18.00,40.90) rotate(-90)" font-size="17.7" fill="#000">s</text>
<text transform="translate(8.60,32.11) rotate(-90)" font-size="12.4" fill="#000">−1</text>
<text transform="translate(17.80,16.71) rotate(-90)" font-size="17.7" fill="#000">)</text>
<text transform="translate(18.00,428.25) rotate(-90)" font-size="17.7" fill="#000">ER (μ mol CO</text>
<text transform="translate(21.10,316.62) rotate(-90)" font-size="12.4" fill="#000">2</text>
<text transform="translate(18.00,304.87) rotate(-90)" font-size="17.7" fill="#000">m</text>
<text transform="translate(8.60,289.91) rotate(-90)" font-size="12.4" fill="#000">−2</text>
<text transform="translate(18.00,270.50) rotate(-90)" font-size="17.7" fill="#000">s</text>
<text transform="translate(8.60,261.71) rotate(-90)" font-size="12.4" fill="#000">−1</text>
<text transform="translate(17.80,246.31) rotate(-90)" font-size="17.7" fill="#000">)</text>
<text transform="translate(18.00,662.75) rotate(-90)" font-size="17.7" fill="#000">GEP (μ mol CO</text>
<text transform="translate(21.10,538.12) rotate(-90)" font-size="12.4" fill="#000">2</text>
<text transform="translate(18.00,526.37) rotate(-90)" font-size="17.7" fill="#000">m</text>
<text transform="translate(8.60,511.41) rotate(-90)" font-size="12.4" fill="#000">−2</text>
<text transform="translate(18.00,492.00) rotate(-90)" font-size="17.7" fill="#000">s</text>
<text transform="translate(8.60,483.21) rotate(-90)" font-size="12.4" fill="#000">−1</text>
<text transform="translate(17.80,467.81) rotate(-90)" font-size="17.7" fill="#000">)</text>
</svg></body></html>
